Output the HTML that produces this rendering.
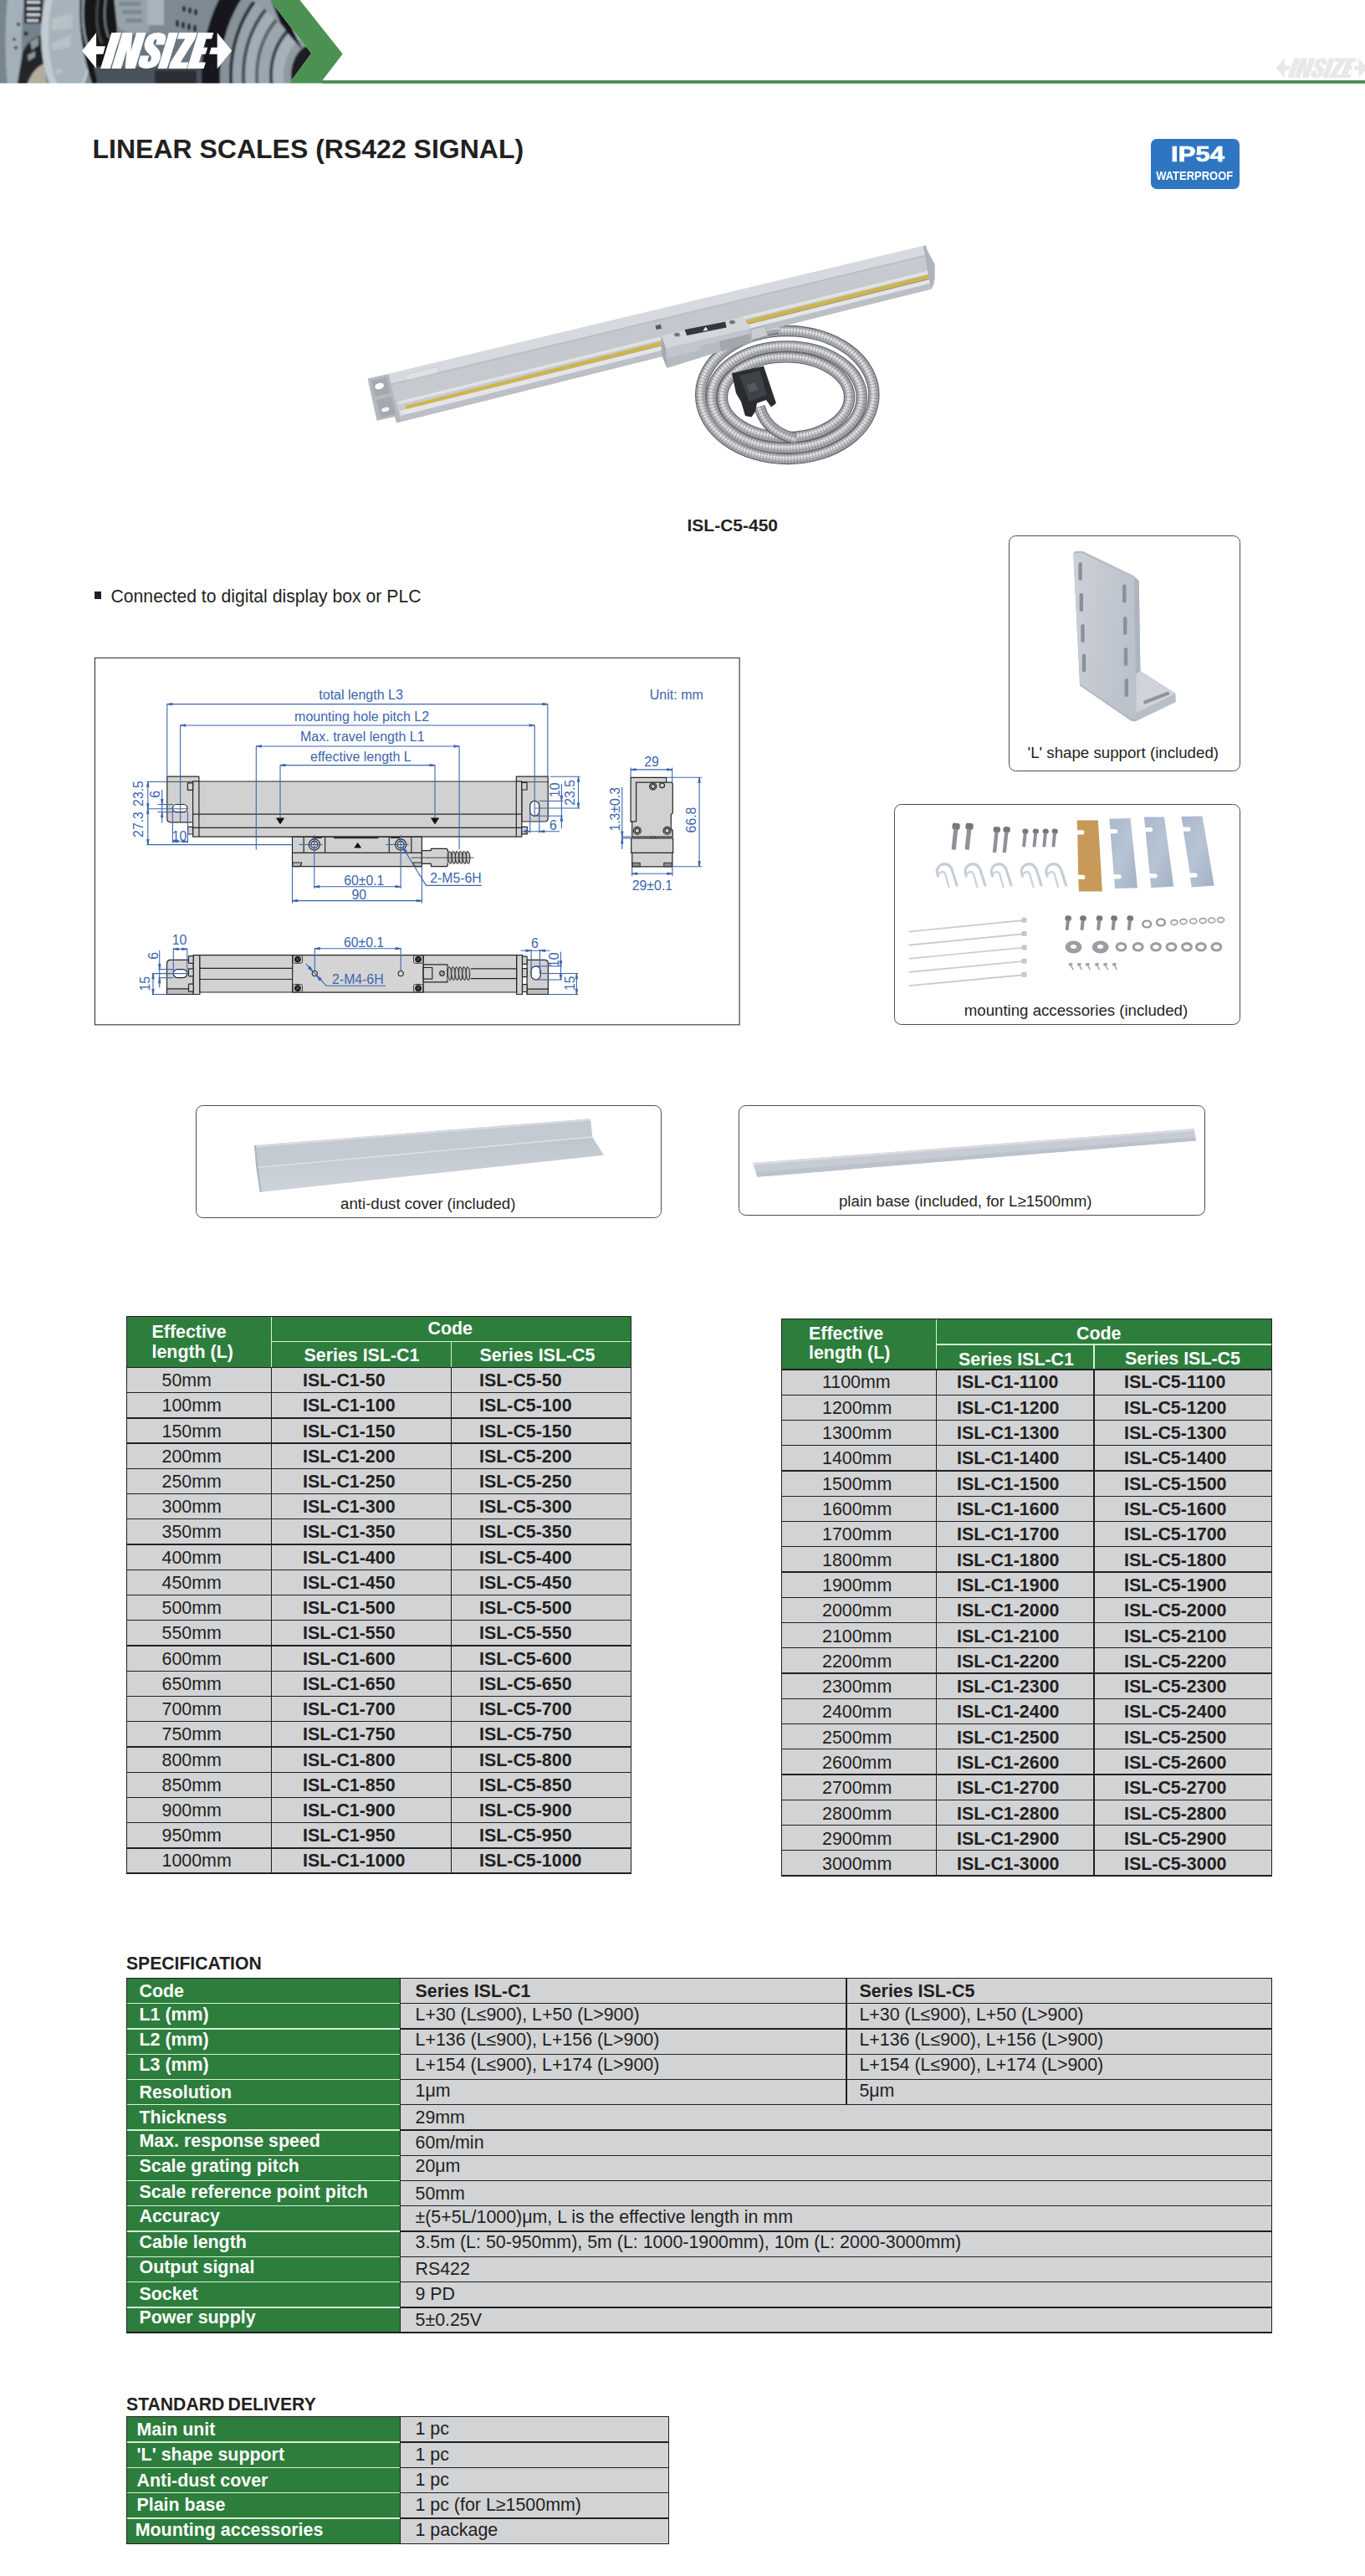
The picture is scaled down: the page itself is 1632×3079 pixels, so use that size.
<!DOCTYPE html>
<html><head><meta charset="utf-8"><title>Linear Scales</title>
<style>
*{margin:0;padding:0;box-sizing:border-box}
html,body{width:1632px;height:3079px;background:#fff;overflow:hidden}
body{position:relative;font-family:"Liberation Sans",sans-serif;color:#231f20}
.a{position:absolute;white-space:nowrap;line-height:1}
.b{font-weight:bold}
.box{position:absolute;border:1.25px solid #4c4c4e;border-radius:8.5px;background:#fff}
.g{background:#2d7d3d}
.y{background:#d2d3d5}
.k{background:#231f20}
.l{background:#d4f3d2}
svg{position:absolute;overflow:visible}
</style></head><body>
<!-- HEADER -->
<svg width="1632" height="110" style="left:0;top:0" viewBox="0 0 1632 110">
<defs>
<clipPath id="hc"><polygon points="0,0 322.5,0 372.3,63.7 346,99.4 0,99.4"/></clipPath>
<linearGradient id="hg" x1="0" x2="1" y1="0" y2="0">
<stop offset="0" stop-color="#6c7c88"/><stop offset="0.05" stop-color="#8896a0"/><stop offset="0.1" stop-color="#59656e"/>
<stop offset="0.14" stop-color="#a9b4bb"/><stop offset="0.27" stop-color="#b4bec4"/><stop offset="0.3" stop-color="#6b7780"/>
<stop offset="0.34" stop-color="#15181b"/><stop offset="0.4" stop-color="#262b30"/><stop offset="0.44" stop-color="#8a969e"/>
<stop offset="0.52" stop-color="#6f7b84"/><stop offset="0.58" stop-color="#2a2f34"/><stop offset="0.66" stop-color="#4b555d"/>
<stop offset="0.72" stop-color="#1f2327"/><stop offset="0.78" stop-color="#7d8992"/><stop offset="0.84" stop-color="#a4aeb6"/>
<stop offset="0.9" stop-color="#707b84"/><stop offset="0.95" stop-color="#9aa5ad"/><stop offset="1" stop-color="#5c666e"/>
</linearGradient>
<filter id="hb" x="-5%" y="-5%" width="110%" height="110%"><feGaussianBlur stdDeviation="0.9"/></filter>
<g id="logo">
<g transform="translate(0,82) skewX(-17.1) translate(0,-82)">
<rect x="120.1" y="39.1" width="11.7" height="42.9"/>
<polygon points="133.3,39.1 145.2,39.1 150,61 150,39.1 161.5,39.1 161.5,82 149.6,82 144.8,60 144.8,82 133.3,82"/>
<path d="M187.6,53.5 V49.5 Q187.6,39.1 175.6,39.1 Q163.4,39.1 163.4,50 Q163.4,57 169,61.5 L175.5,66.8 Q177.3,68.5 177.3,71 Q177.3,74 175.4,74 Q173.5,74 173.5,71 V66.5 H163.1 V71.5 Q163.1,82 175.4,82 Q187.9,82 187.9,71 Q187.9,63.5 182,58.8 L175.5,53.6 Q173.7,52 173.7,49.8 Q173.7,47 175.5,47 Q177.3,47 177.3,49.8 V53.5 Z"/>
<rect x="188.7" y="39.1" width="11" height="42.9"/>
<polygon points="201,39.1 222.4,39.1 222.4,46.6 213.5,74.5 223.1,74.5 223.1,82 201.5,82 201.5,74.5 210.4,46.6 201,46.6"/>
<polygon points="223.8,39.1 242.2,39.1 242.2,46.6 235.6,46.6 235.6,56.7 240.5,56.7 240.5,64.8 235.6,64.8 235.6,74.5 243.6,74.5 243.6,82 223.8,82"/>
</g>
<polygon points="98,60.8 115.1,39.1 115.1,55.2 126,55.2 123.3,64.8 115.1,64.8 115.1,82"/>
<polygon points="277.2,60.8 259.7,39.1 259.7,56.7 252.6,56.7 250.2,64.8 259.7,64.8 259.7,82"/>
</g>
</defs>
<g clip-path="url(#hc)">
<g filter="url(#hb)">
<rect x="-5" y="-5" width="385" height="110" fill="#7b8a95"/>
<!-- far-left rings -->
<rect x="-5" y="-5" width="14" height="110" fill="#76858f"/>
<path d="M9,-5 Q4,50 9,105 H29 Q22,50 29,-5Z" fill="#a3b0b9"/>
<rect x="28" y="-5" width="24" height="110" fill="#73828d"/>
<rect x="29" y="-5" width="22" height="33" fill="#1d2125"/>
<path d="M32,1 h16 v3.500 h-16z M32,8.500 h16 v3.500 h-16z M32,16 h16 v3.500 h-16z M32,23 h14 v3 h-14z" fill="#c9d0d5"/>
<circle cx="22" cy="29" r="2" fill="#2a2f34"/><circle cx="31" cy="40" r="2.600" fill="#2a2f34"/><circle cx="17" cy="47" r="1.800" fill="#2a2f34"/><circle cx="19" cy="57" r="2" fill="#2a2f34"/>
<path d="M27,62 Q36,44 52,42 V105 H20Z" fill="#22262a"/>
<path d="M36,50 l10,-6 v10 l-8,6z M33,66 l9,-5 v7 l-8,5z" fill="#8a949b"/>
<path d="M31,105 Q38,82 53,76 L56,105Z" fill="#b3ad9b"/>
<!-- big light disk -->
<ellipse cx="80" cy="42" rx="31" ry="78" fill="#c2cbd2"/>
<ellipse cx="83" cy="42" rx="25" ry="72" fill="#a7b3bb"/>
<path d="M62,22 l24,-6 v18 l-24,2z M62,52 l22,-10 v14 l-22,4z M66,84 l8,-2 v6 l-8,1z" fill="#b7c1c8"/>
<!-- black region -->
<path d="M96,-5 Q92,50 112,105 H140 V-5Z" fill="#121518"/>
<path d="M100,-5 Q96,35 106,58" fill="none" stroke="#8b959c" stroke-width="3"/>
<path d="M118,-5 Q112,30 122,52" fill="none" stroke="#3f464c" stroke-width="3"/>
<path d="M127,-5 Q122,25 130,45" fill="none" stroke="#6d777f" stroke-width="2.500"/>
<!-- gear upper middle -->
<path d="M136,-5 H178 V38 Q155,44 140,32Z" fill="#97a3ab"/>
<path d="M142,2 h26 v5 h-26z M146,12 h24 v5 h-24z M150,22 h20 v5 h-20z" fill="#7d8991"/>
<path d="M176,-5 H196 V30 H176Z" fill="#a9b4bc"/>
<path d="M150,42 H262 V105 H112Z" fill="#6b7780"/>
<path d="M112,80 H262 V105 H118Z" fill="#4a535b"/>
<path d="M196,-5 H262 V45 H196Z" fill="#7e8a93"/>
<g fill="#23272b"><rect x="218" y="7" width="4" height="7" rx="1.500"/><rect x="225" y="9" width="4" height="7" rx="1.500"/><rect x="232" y="11" width="4" height="7" rx="1.500"/><rect x="210" y="24" width="4" height="8" rx="1.500"/><rect x="217" y="26" width="4" height="8" rx="1.500"/><rect x="224" y="28" width="4" height="8" rx="1.500"/><rect x="231" y="30" width="4" height="8" rx="1.500"/></g>
<path d="M185,84 h50 v21 h-50z" fill="#2a2f34"/>
<!-- right concentric rings -->
<ellipse cx="375" cy="90" rx="134" ry="170" fill="#15181b"/>
<ellipse cx="375" cy="90" rx="112" ry="143" fill="#87929b"/>
<ellipse cx="375" cy="90" rx="101" ry="129" fill="#2b3035"/>
<ellipse cx="375" cy="90" rx="97" ry="124" fill="#98a3ac"/>
<ellipse cx="375" cy="90" rx="86" ry="110" fill="#434b52"/>
<ellipse cx="375" cy="90" rx="82" ry="105" fill="#a3adb5"/>
<ellipse cx="375" cy="90" rx="70" ry="90" fill="#5b646c"/>
<ellipse cx="375" cy="90" rx="66" ry="85" fill="#9ba6af"/>
<ellipse cx="375" cy="90" rx="53" ry="69" fill="#3b4248"/>
<ellipse cx="375" cy="90" rx="49" ry="64" fill="#a7b1b9"/>
<ellipse cx="375" cy="90" rx="36" ry="48" fill="#8e99a2"/>
<ellipse cx="375" cy="90" rx="27" ry="37" fill="#1a1d20"/>
<path d="M296,-5 Q330,18 346,42 L362,60 L330,-5Z" fill="#15181b"/>
<path d="M290,-5 Q318,8 336,30 L322,-5Z" fill="#929da6"/>
</g>
</g>
<polygon points="322.5,0 358.4,0 409.7,64.5 385.5,96 1632,96 1632,99.6 346,99.6 372.3,63.7" fill="#4c9151"/>
<rect x="385" y="96" width="1247" height="3.6" fill="#4f8a57"/>
<use href="#logo" fill="#fff"/>
<g transform="translate(1525.8,69.5) scale(0.61,0.55) translate(-98,-39.1)" opacity="0.9"><use href="#logo" fill="#e5e6e8"/></g>
</svg>
<div class="a b" style="left:110.5px;top:162.4px;font-size:32px">LINEAR SCALES (RS422 SIGNAL)</div>
<div class="a" style="left:1376px;top:165.5px;width:106px;height:60px;background:#2f76c2;border-radius:7px"></div>
<div class="a b" style="left:1379px;top:171.800px;width:106px;text-align:center;font-size:25px;color:#fff;-webkit-text-stroke:0.7px #fff;transform:scaleX(1.24)">IP54</div>
<div class="a b" style="left:1375px;top:202px;width:106px;text-align:center;font-size:15px;color:#fff;transform:scaleX(0.865)">WATERPROOF</div>

<!-- PRODUCT -->
<svg width="1632" height="700" style="left:0;top:0" viewBox="0 0 1632 700">
<defs>
<linearGradient id="barf" x1="0" y1="0" x2="0.24" y2="1"><stop offset="0" stop-color="#cfd2d7"/><stop offset="0.5" stop-color="#c3c6cc"/><stop offset="1" stop-color="#c9ccd1"/></linearGradient>
</defs>
<!-- cable coil -->
<g fill="none">
<g stroke="#5e6166" stroke-width="13.4"><ellipse cx="941.3" cy="472" rx="103.6" ry="76.5"/>
<ellipse cx="940.4" cy="474.8" rx="89.9" ry="60.9"/>
<ellipse cx="939.5" cy="474.8" rx="76.1" ry="48"/></g>
<g stroke="#a3a6ab" stroke-width="11.2"><ellipse cx="941.3" cy="472" rx="103.6" ry="76.5"/>
<ellipse cx="940.4" cy="474.8" rx="89.9" ry="60.9"/>
<ellipse cx="939.5" cy="474.8" rx="76.1" ry="48"/></g>
<g stroke="#c9cbcf" stroke-width="6" opacity="0.9"><ellipse cx="940.6999999999999" cy="471.2" rx="103.6" ry="76.5"/>
<ellipse cx="939.8" cy="474.0" rx="89.9" ry="60.9"/>
<ellipse cx="938.9" cy="474.0" rx="76.1" ry="48"/></g>
<g stroke="#e3e5e7" stroke-width="2.6" opacity="0.9"><ellipse cx="940.3" cy="470.7" rx="103.6" ry="76.5"/>
<ellipse cx="939.4" cy="473.5" rx="89.9" ry="60.9"/>
<ellipse cx="938.5" cy="473.5" rx="76.1" ry="48"/></g>
<g stroke="#74777c" stroke-width="11.2" stroke-dasharray="1 2.7" opacity="0.5"><ellipse cx="941.3" cy="472" rx="103.6" ry="76.5"/>
<ellipse cx="940.4" cy="474.8" rx="89.9" ry="60.9"/>
<ellipse cx="939.5" cy="474.8" rx="76.1" ry="48"/></g>
</g>
<!-- cable from head -->
<path d="M899,400 Q915,394 930,392" fill="none" stroke="#5e6166" stroke-width="13.4"/>
<path d="M899,400 Q915,394 932,392" fill="none" stroke="#a3a6ab" stroke-width="11.2"/>
<path d="M899,399 Q915,393 932,391" fill="none" stroke="#d5d7da" stroke-width="4"/>
<!-- connector cable inner -->
<path d="M908,486 Q916,516 950,524" fill="none" stroke="#5e6166" stroke-width="13.4"/>
<path d="M908,486 Q916,516 952,524.500" fill="none" stroke="#a3a6ab" stroke-width="11.2"/>
<path d="M907,486 Q915,517 952,525.500" fill="none" stroke="#d3d5d8" stroke-width="4"/>
<path d="M908,486 Q916,516 952,524.500" fill="none" stroke="#74777c" stroke-width="11.2" stroke-dasharray="1 2.7" opacity="0.5"/>
<!-- DB9 connector -->
<polygon points="875,446 913,437.5 928,482 922,486.500 916,478 905,482 903,492 898.500,498.500 891,497 886,480 880,470" fill="#2a2c30"/>
<polygon points="884,449 908,443 917,472 896,480" fill="#3f4248"/>
<polygon points="893,460 903,457 906,466 896,469" fill="#55585e"/>
<!-- bar -->
<polygon points="464.5,447 1103.8,293.9 1117.7,332.9 1113.6,345.4 479.9,504" fill="url(#barf)"/>
<polygon points="464.5,447 1103.8,293.9 1107.5,304.5 468,458.5" fill="#d6d9dd"/>
<polygon points="468,458.5 1107.5,304.5 1108,306 468.5,460" fill="#b9bdc3"/>
<polygon points="476,480 1112,323 1113.5,326.5 477,483.5" fill="#e0e2e5"/>
<polygon points="485,485 1113.5,327.500 1114.8,331.3 486,488.800" fill="#cfb545"/>
<polygon points="486,489 1115,331.5 1115.5,333 486.5,490.5" fill="#a99a6a"/>
<polygon points="478,491 1116,333 1117.5,337.5 479,497" fill="#e3e5e8"/>
<polygon points="479,497 1117.5,337.5 1113.6,345.4 479.9,504" fill="#bcc0c6"/>
<!-- right end cap details -->
<polygon points="1103.8,293.9 1107,293 1109,300 1117.7,316 1117.7,332.9 1113.6,345.4 1110,330 1106,305" fill="#aeb2b9"/>
<!-- label -->
<polygon points="484,448 523,438.5 525,445 486,454.5" fill="#dfe1e4" stroke="#c2c5ca" stroke-width="0.6"/>
<!-- left bracket -->
<polygon points="439.5,452.6 464.5,447 479.9,504 474,505.5 472,498 450.6,502.7" fill="#b4b8bf"/>
<polygon points="444,455 462,451 467,470 449,474" fill="#a4a8b0"/>
<polygon points="450,478 468,474 473,495 455,499" fill="#a4a8b0"/>
<ellipse cx="453.6" cy="461.5" rx="5.5" ry="3.6" fill="#fff" transform="rotate(-14 453.6 461.5)"/>
<ellipse cx="460.8" cy="489.5" rx="4.8" ry="2.6" fill="#f2f3f4" transform="rotate(-14 460.8 489.5)"/>
<!-- reading head -->
<polygon points="790.6,401.1 888.1,378.8 897.8,392.8 899.2,408.1 797.6,440.1 791,424" fill="#b6bac1"/>
<polygon points="790.6,401.1 888.1,378.8 897.8,392.8 796.2,416.4" fill="#d3d6da"/>
<polygon points="790.6,401.1 796.2,416.4 797.6,440.1 791,424" fill="#a5a9b1"/>
<polygon points="796.2,416.4 897.8,392.8 898.4,399 836,414 836.5,419 797,428.5" fill="#c2c5cb"/>
<polygon points="818.5,394.1 867.2,384.4 868.6,391.4 821.2,401.1" fill="#34373c"/>
<polygon points="843.5,390.5 846.6,394.6 840.5,395.8" fill="#e8e9eb"/>
<ellipse cx="809.5" cy="400" rx="3.8" ry="2.6" fill="#8a8e95"/><ellipse cx="809.5" cy="400" rx="2" ry="1.3" fill="#5e6167"/>
<ellipse cx="875.5" cy="385" rx="3.8" ry="2.6" fill="#8a8e95"/><ellipse cx="875.5" cy="385" rx="2" ry="1.3" fill="#5e6167"/>
<rect x="784" y="388.5" width="6.5" height="5" fill="#55585e" transform="rotate(-13 787 391)"/>
<polygon points="860,408 896,399 898,410 862,420" fill="#a2a6ad"/>
<!-- ferrule -->
<polygon points="897,394 915,389.5 918,401 899,406.5" fill="#c9ccd1" stroke="#9a9da3" stroke-width="0.8"/>
</svg>
<div class="a b" style="left:821.5px;top:616.9px;font-size:21px">ISL-C5-450</div>
<div class="a" style="left:112.5px;top:707px;width:8.5px;height:8.5px;background:#231f20"></div>
<div class="a" style="left:132.5px;top:701.5px;font-size:21.2px">Connected to digital display box or PLC</div>

<!-- DIAGRAM -->
<svg width="1632" height="1300" style="left:0;top:0" viewBox="0 0 1632 1300" font-family="Liberation Sans, sans-serif">
<rect x="113.45" y="786.35" width="770.7" height="438.5" fill="#fff" stroke="#3a3a3c" stroke-width="1.15"/>
<g fill="#d1d1d2" stroke="#262626" stroke-width="1.2" stroke-linejoin="round">
<path d="M199.8,928.2 H237.9 V934 H230.6 V982.8 H204 Q199.8,982.8 199.8,978.5 Z"/>
<path d="M655.2,928.2 H617.3 V934 H623.8 V982 H651 Q655.2,982 655.2,977.7 Z"/>
<path d="M237.9,934 H617.3 V934 H623.8 V1000.1 H230.6 V934 Z"/>
<line x1="237.9" y1="934" x2="237.9" y2="1000.1"/>
<line x1="617.3" y1="934" x2="617.3" y2="1000.1"/>
<line x1="230.6" y1="973.2" x2="623.8" y2="973.2"/>
<line x1="230.6" y1="989.3" x2="623.8" y2="989.3"/>
<line x1="199.8" y1="934.4" x2="230.6" y2="934.4" stroke-width="0.8"/>
<line x1="623.8" y1="934.6" x2="655.2" y2="934.6" stroke-width="0.8"/>
<rect x="224.4" y="935.8" width="6.2" height="8.6"/>
<rect x="224.6" y="988.4" width="6" height="8.6"/>
<rect x="623.8" y="935.4" width="6.2" height="8.6"/>
<rect x="623.8" y="988.3" width="6.5" height="8.5"/>
<rect x="206.4" y="961.5" width="17.6" height="9.2" rx="4.6" fill="#fff"/>
<rect x="633.7" y="957.4" width="11.1" height="17.9" rx="5.5" fill="#fff"/>
<rect x="349.5" y="1000.4" width="154.9" height="35.2"/>
<line x1="349.5" y1="1019.4" x2="504.4" y2="1019.4"/>
<line x1="363.2" y1="1000.4" x2="363.2" y2="1019.4"/>
<line x1="388.6" y1="1000.4" x2="388.6" y2="1019.4"/>
<line x1="465.3" y1="1000.4" x2="465.3" y2="1019.4"/>
<line x1="491.8" y1="1000.4" x2="491.8" y2="1019.4"/>
<path d="M374,1001 H385 M399,1001.2 H452.4 M467,1001 H478" stroke-width="2.2" fill="none"/>
<path d="M349.9,1031 H360.6 Q360.6,1035 357,1035.6 H349.9 Z M504.4,1031 H493.9 Q493.9,1035 497.5,1035.6 H504.4 Z" fill="#bdbdbe"/>
<circle cx="375.8" cy="1009.5" r="6.6" /><circle cx="375.8" cy="1009.5" r="4.1"/>
<circle cx="479.1" cy="1009.5" r="6.6" /><circle cx="479.1" cy="1009.5" r="4.1"/>
<path d="M504.4,1016.6 H515.3 V1014.3 H533 Q535.3,1014.3 535.3,1016.5 V1033.4 Q535.3,1035.6 533,1035.6 H515.3 V1032.4 H504.4 Z"/>
<path d="M535.3,1018 H561 V1032 H535.3 Z" fill="#c4c4c5" stroke="none"/>
<path d="M537.2,1017.4 q3,1 3.2,7.6 q0,6.4 -1.6,7.6 q-2.6,-1 -3,-7.6 q0,-6.4 1.4,-7.6z" fill="#bebebf" stroke-width="1"/>
<path d="M541.5,1017.4 q3,1 3.2,7.6 q0,6.4 -1.6,7.6 q-2.6,-1 -3,-7.6 q0,-6.4 1.4,-7.6z" fill="#bebebf" stroke-width="1"/>
<path d="M545.8000000000001,1017.4 q3,1 3.2,7.6 q0,6.4 -1.6,7.6 q-2.6,-1 -3,-7.6 q0,-6.4 1.4,-7.6z" fill="#bebebf" stroke-width="1"/>
<path d="M550.1,1017.4 q3,1 3.2,7.6 q0,6.4 -1.6,7.6 q-2.6,-1 -3,-7.6 q0,-6.4 1.4,-7.6z" fill="#bebebf" stroke-width="1"/>
<path d="M554.4000000000001,1017.4 q3,1 3.2,7.6 q0,6.4 -1.6,7.6 q-2.6,-1 -3,-7.6 q0,-6.4 1.4,-7.6z" fill="#bebebf" stroke-width="1"/>
<path d="M558.7,1017.4 q3,1 3.2,7.6 q0,6.4 -1.6,7.6 q-2.6,-1 -3,-7.6 q0,-6.4 1.4,-7.6z" fill="#bebebf" stroke-width="1"/>
</g>
<polygon points="329.9,977.4 340.2,977.4 335,985.4" fill="#111"/>
<polygon points="514.9,977.4 525.2,977.4 520,985.4" fill="#111"/>
<polygon points="423.2,1013.6 432.2,1013.6 427.7,1007" fill="#111"/>
<line x1="491.8" y1="1025.2" x2="566.7" y2="1025.2" stroke="#262626" stroke-width="0.8"/>
<g fill="#d1d1d2" stroke="#262626" stroke-width="1.2" stroke-linejoin="round">
<path d="M754.1,929.3 H796.7 V935.2 H802.2 Q804.3,935.2 804.3,937.5 V971.8 L802.3,973.5 V991 L804.3,992.3 V1000.1 H755.7 V982 H754.1 Z"/>
<path d="M760.6,982 V935.2 H796.7" fill="none"/>
<path d="M754.1,982 H760.6" fill="none"/>
<rect x="778.2" y="1000.1" width="5.6" height="1.9" fill="#bdbdbe" stroke-width="0.8"/>
<path d="M754.7,1001.9 H804.7 V1019.4 H803.9 V1035.8 H755.7 V1019.4 H754.7 Z"/>
<line x1="754.7" y1="1019.4" x2="804.7" y2="1019.4"/>
<path d="M756.1,1031.3 H765.3 V1035.8 H756.1 Z M793.7,1031.3 H803.3 V1035.8 H793.7 Z" fill="#8c8c8d" stroke-width="0.9"/>
<circle cx="780.7" cy="940" r="4.1"/><circle cx="780.7" cy="940" r="2.5"/>
<circle cx="761.9" cy="992.9" r="4.5"/><circle cx="761.9" cy="992.9" r="2.7"/>
<circle cx="797.6" cy="992.9" r="4.5"/><circle cx="797.6" cy="992.9" r="2.7"/>
<circle cx="791.6" cy="938.7" r="2.9"/>
</g>
<g fill="#d1d1d2" stroke="#262626" stroke-width="1.2" stroke-linejoin="round">
<path d="M231.2,1147.3 H203.8 Q199.5,1147.3 199.5,1151.5 V1188.5 H231.2 Z"/>
<path d="M199.5,1181.9 H231.2 V1188.5 H199.5Z" fill="#bdbdbe"/>
<path d="M630.1,1147.3 H651.2 Q655.4,1147.3 655.4,1151.5 V1188.5 H630.1 Z"/>
<path d="M630.1,1182.1 H655.4 V1188.5 H630.1Z" fill="#bdbdbe"/>
<rect x="231.2" y="1141.7" width="7.7" height="46.8"/>
<rect x="617.6" y="1141.7" width="6.9" height="46.8"/>
<rect x="238.9" y="1141.7" width="378.7" height="44.3"/>
<line x1="238.9" y1="1157.3" x2="349.7" y2="1157.3"/><line x1="238.9" y1="1170.5" x2="349.7" y2="1170.5"/>
<line x1="562.7" y1="1157.9" x2="617.6" y2="1157.9"/><line x1="562.7" y1="1169.6" x2="617.6" y2="1169.6"/>
<rect x="349.7" y="1141.7" width="156.5" height="44.3" fill="#d4d4d5"/>
<rect x="225.5" y="1142.6" width="5.7" height="8.8" rx="0.8"/>
<rect x="225.5" y="1157.8" width="5.7" height="9.1" rx="0.8"/>
<rect x="225.5" y="1176.1" width="5.7" height="9.1" rx="0.8"/>
<rect x="624.5" y="1143.2" width="5.6" height="9.1" rx="0.8"/>
<rect x="624.5" y="1157.6" width="5.6" height="10.1" rx="0.8"/>
<rect x="624.5" y="1176.6" width="5.6" height="8.9" rx="0.8"/>
<rect x="207.3" y="1158.6" width="16.5" height="10.1" rx="5" fill="#fff"/>
<rect x="635.1" y="1154.8" width="11.1" height="16.2" rx="5.5" fill="#fff"/>
<path d="M506.2,1152.9 H534.9 V1173.8 H506.2 Z"/>
<rect x="506.2" y="1156.5" width="10.6" height="13.7"/>
<circle cx="528.5" cy="1163.5" r="2.8"/><line x1="526.6" y1="1165.4" x2="530.4" y2="1161.6" stroke-width="0.9"/>
<path d="M534.9,1156 H562 V1171.5 H534.9 Z" fill="#c4c4c5" stroke="none"/>
<path d="M536.6,1155.7 q3,1 3.2,8 q0,6.8 -1.6,8 q-2.6,-1 -3,-8 q0,-6.8 1.4,-8z" fill="#bebebf" stroke-width="1"/>
<path d="M541.0,1155.7 q3,1 3.2,8 q0,6.8 -1.6,8 q-2.6,-1 -3,-8 q0,-6.8 1.4,-8z" fill="#bebebf" stroke-width="1"/>
<path d="M545.4,1155.7 q3,1 3.2,8 q0,6.8 -1.6,8 q-2.6,-1 -3,-8 q0,-6.8 1.4,-8z" fill="#bebebf" stroke-width="1"/>
<path d="M549.8000000000001,1155.7 q3,1 3.2,8 q0,6.8 -1.6,8 q-2.6,-1 -3,-8 q0,-6.8 1.4,-8z" fill="#bebebf" stroke-width="1"/>
<path d="M554.2,1155.7 q3,1 3.2,8 q0,6.8 -1.6,8 q-2.6,-1 -3,-8 q0,-6.8 1.4,-8z" fill="#bebebf" stroke-width="1"/>
<path d="M558.6,1155.7 q3,1 3.2,8 q0,6.8 -1.6,8 q-2.6,-1 -3,-8 q0,-6.8 1.4,-8z" fill="#bebebf" stroke-width="1"/>
<rect x="350.29999999999995" y="1141.8999999999999" width="11.2" height="9.4" rx="2" fill="#d4d4d5" stroke-width="0.9"/>
<circle cx="355.9" cy="1146.6" r="3.9" fill="#1b1b1b" stroke="none"/>
<path d="M353.7,1144.3999999999999 L358.09999999999997,1148.8 M353.7,1148.8 L358.09999999999997,1144.3999999999999" stroke="#777" stroke-width="0.8"/>
<rect x="350.29999999999995" y="1176.5" width="11.2" height="9.4" rx="2" fill="#d4d4d5" stroke-width="0.9"/>
<circle cx="355.9" cy="1181.2" r="3.9" fill="#1b1b1b" stroke="none"/>
<path d="M353.7,1179.0 L358.09999999999997,1183.4 M353.7,1183.4 L358.09999999999997,1179.0" stroke="#777" stroke-width="0.8"/>
<rect x="494.5" y="1141.8999999999999" width="11.2" height="9.4" rx="2" fill="#d4d4d5" stroke-width="0.9"/>
<circle cx="500.1" cy="1146.6" r="3.9" fill="#1b1b1b" stroke="none"/>
<path d="M497.90000000000003,1144.3999999999999 L502.3,1148.8 M497.90000000000003,1148.8 L502.3,1144.3999999999999" stroke="#777" stroke-width="0.8"/>
<rect x="494.5" y="1176.5" width="11.2" height="9.4" rx="2" fill="#d4d4d5" stroke-width="0.9"/>
<circle cx="500.1" cy="1181.2" r="3.9" fill="#1b1b1b" stroke="none"/>
<path d="M497.90000000000003,1179.0 L502.3,1183.4 M497.90000000000003,1183.4 L502.3,1179.0" stroke="#777" stroke-width="0.8"/>
<circle cx="376.3" cy="1163.6" r="3.1" fill="none" stroke-width="1.1"/><circle cx="479.2" cy="1163.6" r="3.1" fill="none" stroke-width="1.1"/>
</g>
<g stroke="#3b66ad" stroke-width="1.1" fill="none">
<line x1="199.8" y1="841.6" x2="199.8" y2="928.2"/>
<line x1="654.8" y1="841.6" x2="654.8" y2="928.2"/>
<line x1="199.8" y1="841.6" x2="654.8" y2="841.6"/>
<polygon points="199.8,841.6 205.8,840.5500000000001 205.8,842.65" fill="#3b66ad"/>
<polygon points="654.8,841.6 648.8,840.5500000000001 648.8,842.65" fill="#3b66ad"/>
<line x1="215.6" y1="867" x2="215.6" y2="982"/>
<line x1="639.2" y1="867" x2="639.2" y2="975"/>
<line x1="215.6" y1="867" x2="639.2" y2="867"/>
<polygon points="215.6,867 221.6,865.95 221.6,868.05" fill="#3b66ad"/>
<polygon points="639.2,867 633.2,865.95 633.2,868.05" fill="#3b66ad"/>
<line x1="306.3" y1="892" x2="306.3" y2="1015.5"/>
<line x1="549.1" y1="892" x2="549.1" y2="1015.5"/>
<line x1="306.3" y1="892" x2="549.1" y2="892"/>
<polygon points="306.3,892 312.3,890.95 312.3,893.05" fill="#3b66ad"/>
<polygon points="549.1,892 543.1,890.95 543.1,893.05" fill="#3b66ad"/>
<line x1="335" y1="914.6" x2="335" y2="977.4"/>
<line x1="520" y1="914.6" x2="520" y2="977.4"/>
<line x1="335" y1="914.6" x2="520" y2="914.6"/>
<polygon points="335,914.6 341,913.5500000000001 341,915.65" fill="#3b66ad"/>
<polygon points="520,914.6 514,913.5500000000001 514,915.65" fill="#3b66ad"/>
<line x1="175.5" y1="934.4" x2="199.8" y2="934.4"/>
<line x1="175.5" y1="966.7" x2="224" y2="966.7"/>
<line x1="175.5" y1="1009.6" x2="349.5" y2="1009.6"/>
<line x1="176.8" y1="934.4" x2="176.8" y2="966.7"/>
<polygon points="176.8,934.4 175.75,940.4 177.85000000000002,940.4" fill="#3b66ad"/>
<polygon points="176.8,966.7 175.75,960.7 177.85000000000002,960.7" fill="#3b66ad"/>
<line x1="176.8" y1="966.7" x2="176.8" y2="1009.6"/>
<polygon points="176.8,966.7 175.75,972.7 177.85000000000002,972.7" fill="#3b66ad"/>
<polygon points="176.8,1009.6 175.75,1003.6 177.85000000000002,1003.6" fill="#3b66ad"/>
<line x1="188.4" y1="961.5" x2="207" y2="961.5"/>
<line x1="188.4" y1="970.6" x2="207" y2="970.6"/>
<line x1="193.7" y1="944" x2="193.7" y2="983.5"/>
<polygon points="193.7,961.5 192.64999999999998,955.5 194.75,955.5" fill="#3b66ad"/>
<polygon points="193.7,970.6 192.64999999999998,976.6 194.75,976.6" fill="#3b66ad"/>
<line x1="206.4" y1="966.7" x2="206.4" y2="1007.7"/>
<line x1="224.4" y1="970" x2="224.4" y2="1007.7"/>
<line x1="206.4" y1="1005.8" x2="224.4" y2="1005.8"/>
<polygon points="206.4,1005.8 212.4,1004.75 212.4,1006.8499999999999" fill="#3b66ad"/>
<polygon points="224.4,1005.8 218.4,1004.75 218.4,1006.8499999999999" fill="#3b66ad"/>
<line x1="357.5" y1="1009.5" x2="385.7" y2="1009.5"/>
<line x1="461.5" y1="1009.5" x2="488.6" y2="1009.5"/>
<line x1="375.8" y1="998" x2="375.8" y2="1062"/>
<line x1="479.1" y1="998" x2="479.1" y2="1062"/>
<line x1="375.8" y1="1059.8" x2="479.1" y2="1059.8"/>
<polygon points="375.8,1059.8 381.8,1058.75 381.8,1060.85" fill="#3b66ad"/>
<polygon points="479.1,1059.8 473.1,1058.75 473.1,1060.85" fill="#3b66ad"/>
<line x1="349.5" y1="1035.6" x2="349.5" y2="1079.6"/>
<line x1="504.4" y1="1035.6" x2="504.4" y2="1079.6"/>
<line x1="349.5" y1="1076.6" x2="504.4" y2="1076.6"/>
<polygon points="349.5,1076.6 355.5,1075.55 355.5,1077.6499999999999" fill="#3b66ad"/>
<polygon points="504.4,1076.6 498.4,1075.55 498.4,1077.6499999999999" fill="#3b66ad"/>
<polyline points="482.5,1014.5 509.5,1058.4 575.8,1058.4"/>
<polygon points="481.5,1013 486.5,1017.5 484.2,1018.9" fill="#3b66ad"/>
<line x1="657.7" y1="928.3" x2="693.6" y2="928.3"/>
<line x1="639.2" y1="966" x2="693.6" y2="966"/>
<line x1="691.5" y1="928.3" x2="691.5" y2="966"/>
<polygon points="691.5,928.3 690.45,934.3 692.55,934.3" fill="#3b66ad"/>
<polygon points="691.5,966 690.45,960 692.55,960" fill="#3b66ad"/>
<line x1="644.8" y1="957.4" x2="673.1" y2="957.4"/>
<line x1="639.2" y1="975.3" x2="673.1" y2="975.3"/>
<line x1="671.4" y1="937" x2="671.4" y2="990.2"/>
<polygon points="671.4,957.4 670.35,951.4 672.4499999999999,951.4" fill="#3b66ad"/>
<polygon points="671.4,975.3 670.35,981.3 672.4499999999999,981.3" fill="#3b66ad"/>
<line x1="633.7" y1="970" x2="633.7" y2="995.4"/>
<line x1="644.8" y1="972" x2="644.8" y2="995.4"/>
<line x1="624.9" y1="993.7" x2="669" y2="993.7"/>
<polygon points="633.7,993.7 627.7,992.6500000000001 627.7,994.75" fill="#3b66ad"/>
<polygon points="644.8,993.7 650.8,992.6500000000001 650.8,994.75" fill="#3b66ad"/>
<line x1="754.1" y1="917.4" x2="754.1" y2="929.3"/>
<line x1="803.7" y1="917.4" x2="803.7" y2="936"/>
<line x1="754.1" y1="919.9" x2="803.7" y2="919.9"/>
<polygon points="754.1,919.9 760.1,918.85 760.1,920.9499999999999" fill="#3b66ad"/>
<polygon points="803.7,919.9 797.7,918.85 797.7,920.9499999999999" fill="#3b66ad"/>
<line x1="796.7" y1="929.3" x2="839.2" y2="929.3"/>
<line x1="803.3" y1="1035.8" x2="839.2" y2="1035.8"/>
<line x1="836.1" y1="929.3" x2="836.1" y2="1035.8"/>
<polygon points="836.1,929.3 835.0500000000001,935.3 837.15,935.3" fill="#3b66ad"/>
<polygon points="836.1,1035.8 835.0500000000001,1029.8 837.15,1029.8" fill="#3b66ad"/>
<line x1="743.8" y1="941" x2="743.8" y2="1014.9"/>
<line x1="742.8" y1="1000.1" x2="755.7" y2="1000.1"/>
<line x1="742.8" y1="1001.9" x2="755.7" y2="1001.9"/>
<polygon points="743.8,1000.1 742.75,994.1 744.8499999999999,994.1" fill="#3b66ad"/>
<polygon points="743.8,1001.9 742.75,1007.9 744.8499999999999,1007.9" fill="#3b66ad"/>
<line x1="755.7" y1="1035.8" x2="755.7" y2="1047.3"/>
<line x1="803.9" y1="1035.8" x2="803.9" y2="1047.3"/>
<line x1="755.7" y1="1044.2" x2="803.9" y2="1044.2"/>
<polygon points="755.7,1044.2 761.7,1043.15 761.7,1045.25" fill="#3b66ad"/>
<polygon points="803.9,1044.2 797.9,1043.15 797.9,1045.25" fill="#3b66ad"/>
<line x1="207.3" y1="1133.3" x2="207.3" y2="1163.6"/>
<line x1="223.8" y1="1133.3" x2="223.8" y2="1163.6"/>
<line x1="207.3" y1="1134.4" x2="223.8" y2="1134.4"/>
<polygon points="207.3,1134.4 213.3,1133.3500000000001 213.3,1135.45" fill="#3b66ad"/>
<polygon points="223.8,1134.4 217.8,1133.3500000000001 217.8,1135.45" fill="#3b66ad"/>
<line x1="189.4" y1="1158.6" x2="207.3" y2="1158.6"/>
<line x1="189.4" y1="1168.7" x2="207.3" y2="1168.7"/>
<line x1="190.7" y1="1136.1" x2="190.7" y2="1180.6"/>
<polygon points="190.7,1158.6 189.64999999999998,1152.6 191.75,1152.6" fill="#3b66ad"/>
<polygon points="190.7,1168.7 189.64999999999998,1174.7 191.75,1174.7" fill="#3b66ad"/>
<line x1="181.5" y1="1163.6" x2="223.3" y2="1163.6"/>
<line x1="181.5" y1="1188.5" x2="199.5" y2="1188.5"/>
<line x1="183" y1="1163.6" x2="183" y2="1188.5"/>
<polygon points="183,1163.6 181.95,1169.6 184.05,1169.6" fill="#3b66ad"/>
<polygon points="183,1188.5 181.95,1182.5 184.05,1182.5" fill="#3b66ad"/>
<line x1="376.3" y1="1133" x2="376.3" y2="1160.5"/>
<line x1="479.2" y1="1133" x2="479.2" y2="1160.5"/>
<line x1="376.3" y1="1133.8" x2="479.2" y2="1133.8"/>
<polygon points="376.3,1133.8 382.3,1132.75 382.3,1134.85" fill="#3b66ad"/>
<polygon points="479.2,1133.8 473.2,1132.75 473.2,1134.85" fill="#3b66ad"/>
<polyline points="365.9,1152.1 390.1,1178.2 461.1,1178.2"/>
<polygon points="373.9,1161 368.6,1157.3 370.6,1155.4" fill="#3b66ad"/><polygon points="378.7,1166.2 384,1169.9 382,1171.8" fill="#3b66ad"/>
<line x1="635.1" y1="1134.8" x2="635.1" y2="1163.5"/>
<line x1="645.4" y1="1134.8" x2="645.4" y2="1163.5"/>
<line x1="622.6" y1="1136.2" x2="657.4" y2="1136.2"/>
<polygon points="635.1,1136.2 629.1,1135.15 629.1,1137.25" fill="#3b66ad"/>
<polygon points="645.4,1136.2 651.4,1135.15 651.4,1137.25" fill="#3b66ad"/>
<line x1="640.7" y1="1154.8" x2="671.9" y2="1154.8"/>
<line x1="640.7" y1="1171" x2="671.9" y2="1171"/>
<line x1="670.5" y1="1137.6" x2="670.5" y2="1171"/>
<polygon points="670.5,1154.8 669.45,1148.8 671.55,1148.8" fill="#3b66ad"/>
<polygon points="670.5,1171 669.45,1165 671.55,1165" fill="#3b66ad"/>
<line x1="645.4" y1="1163.5" x2="691.3" y2="1163.5"/>
<line x1="655.4" y1="1188.5" x2="691.3" y2="1188.5"/>
<line x1="689.4" y1="1163.5" x2="689.4" y2="1188.5"/>
<polygon points="689.4,1163.5 688.35,1169.5 690.4499999999999,1169.5" fill="#3b66ad"/>
<polygon points="689.4,1188.5 688.35,1182.5 690.4499999999999,1182.5" fill="#3b66ad"/>
</g>
<text x="431.6" y="835.9" font-size="16" text-anchor="middle" fill="#3b66ad" stroke="none">total length L3</text>
<text x="432.6" y="862" font-size="16" text-anchor="middle" fill="#3b66ad" stroke="none">mounting hole pitch L2</text>
<text x="433.3" y="886" font-size="16" text-anchor="middle" fill="#3b66ad" stroke="none">Max. travel length L1</text>
<text x="431.4" y="909.8" font-size="16" text-anchor="middle" fill="#3b66ad" stroke="none">effective length L</text>
<text x="776.8" y="835.6" font-size="16" text-anchor="start" fill="#3b66ad" stroke="none">Unit: mm</text>
<text x="171.4" y="948.5" font-size="15.8" text-anchor="middle" fill="#3b66ad" stroke="none" transform="rotate(-90 171.4 948.5)">23.5</text>
<text x="171.4" y="985.5" font-size="15.8" text-anchor="middle" fill="#3b66ad" stroke="none" transform="rotate(-90 171.4 985.5)">27.3</text>
<text x="190.8" y="949.3" font-size="15.8" text-anchor="middle" fill="#3b66ad" stroke="none" transform="rotate(-90 190.8 949.3)">6</text>
<text x="214.5" y="1004.5" font-size="15.8" text-anchor="middle" fill="#3b66ad" stroke="none">10</text>
<text x="435.3" y="1058.2" font-size="15.8" text-anchor="middle" fill="#3b66ad" stroke="none">60±0.1</text>
<text x="429.2" y="1075.3" font-size="15.8" text-anchor="middle" fill="#3b66ad" stroke="none">90</text>
<text x="514.3" y="1054.7" font-size="15.8" text-anchor="start" fill="#3b66ad" stroke="none">2-M5-6H</text>
<text x="687" y="947.3" font-size="15.8" text-anchor="middle" fill="#3b66ad" stroke="none" transform="rotate(-90 687 947.3)">23.5</text>
<text x="669.5" y="944.3" font-size="15.8" text-anchor="middle" fill="#3b66ad" stroke="none" transform="rotate(-90 669.5 944.3)">10</text>
<text x="661.3" y="991.6" font-size="15.8" text-anchor="middle" fill="#3b66ad" stroke="none">6</text>
<text x="779" y="915.5" font-size="15.8" text-anchor="middle" fill="#3b66ad" stroke="none">29</text>
<text x="832" y="980" font-size="15.8" text-anchor="middle" fill="#3b66ad" stroke="none" transform="rotate(-90 832 980)">66.8</text>
<text x="740.7" y="967.3" font-size="15.8" text-anchor="middle" fill="#3b66ad" stroke="none" transform="rotate(-90 740.7 967.3)">1.3±0.3</text>
<text x="779.9" y="1063.6" font-size="15.8" text-anchor="middle" fill="#3b66ad" stroke="none">29±0.1</text>
<text x="214.6" y="1129.4" font-size="15.8" text-anchor="middle" fill="#3b66ad" stroke="none">10</text>
<text x="189.5" y="1142.3" font-size="15.8" text-anchor="middle" fill="#3b66ad" stroke="none" transform="rotate(-90 189.5 1142.3)">6</text>
<text x="179.5" y="1175.7" font-size="15.8" text-anchor="middle" fill="#3b66ad" stroke="none" transform="rotate(-90 179.5 1175.7)">15</text>
<text x="435" y="1132.2" font-size="15.8" text-anchor="middle" fill="#3b66ad" stroke="none">60±0.1</text>
<text x="397.1" y="1175.8" font-size="15.8" text-anchor="start" fill="#3b66ad" stroke="none">2-M4-6H</text>
<text x="639.4" y="1133" font-size="15.8" text-anchor="middle" fill="#3b66ad" stroke="none">6</text>
<text x="668.5" y="1147.3" font-size="15.8" text-anchor="middle" fill="#3b66ad" stroke="none" transform="rotate(-90 668.5 1147.3)">10</text>
<text x="686.6" y="1175.3" font-size="15.8" text-anchor="middle" fill="#3b66ad" stroke="none" transform="rotate(-90 686.6 1175.3)">15</text>
</svg>

<!-- ACCESSORIES -->
<div class="box" style="left:1206.1px;top:640.3px;width:276.5px;height:281.3px"></div>
<div class="box" style="left:1068.6px;top:961.3px;width:414.0px;height:264.0px"></div>
<div class="box" style="left:233.9px;top:1320.7px;width:556.7px;height:135.7px"></div>
<div class="box" style="left:883.4px;top:1320.7px;width:557.2px;height:131.9px"></div>
<svg width="1632" height="1500" style="left:0;top:0" viewBox="0 0 1632 1500">
<defs>
<linearGradient id="lp" x1="0" y1="0" x2="1" y2="0.3"><stop offset="0" stop-color="#cdd2da"/><stop offset="0.5" stop-color="#c3c8d1"/><stop offset="1" stop-color="#bcc2cc"/></linearGradient>
<linearGradient id="ad" x1="0" y1="0" x2="0" y2="1"><stop offset="0" stop-color="#bfc5ce"/><stop offset="1" stop-color="#cfd4db"/></linearGradient>
<linearGradient id="sh" x1="0" y1="0" x2="1" y2="1"><stop offset="0" stop-color="#a9b8cb"/><stop offset="0.5" stop-color="#b7c4d4"/><stop offset="1" stop-color="#a3b1c4"/></linearGradient>
</defs>
<polygon points="1283.2,661 1286,658.8 1294.3,658.8 1355,688 1361.7,694.1 1363.4,802 1405.5,829 1405.5,839 1357,862.5 1352,861.5 1291,819.5" fill="#b4bac4"/>
<polygon points="1283.6,661.5 1292,660.5 1356,690.5 1358.5,858 1353,859 1291.5,817.5" fill="url(#lp)"/>
<polygon points="1356,690.5 1361.7,694.8 1363.4,802 1358.2,806" fill="#aeb4be"/>
<polygon points="1358.2,806 1363.4,802 1405,829.5 1358.5,852" fill="#cfd3da"/>
<polygon points="1358.5,852 1405,829.5 1405.5,839 1357.5,862" fill="#b9bec7"/>
<rect x="1289.3999999999999" y="672" width="4.4" height="22" rx="2.2" fill="#8c9097"/>
<rect x="1290.6" y="709" width="4.4" height="22" rx="2.2" fill="#8c9097"/>
<rect x="1292.3" y="746" width="4.4" height="22" rx="2.2" fill="#8c9097"/>
<rect x="1293.8" y="781.5" width="4.4" height="22" rx="2.2" fill="#8c9097"/>
<rect x="1342.1" y="698.5" width="4.4" height="22" rx="2.2" fill="#8c9097"/>
<rect x="1343.0" y="737" width="4.4" height="22" rx="2.2" fill="#8c9097"/>
<rect x="1343.8" y="774" width="4.4" height="22" rx="2.2" fill="#8c9097"/>
<rect x="1344.6" y="811" width="4.4" height="22" rx="2.2" fill="#8c9097"/>
<rect x="1366" y="832" width="33" height="4.2" rx="2" fill="#8f939a" transform="rotate(-21 1382.5 834)"/>
<rect x="1138.9" y="983.8" width="9.2" height="8" rx="3" fill="#74787e" transform="rotate(6 1143.5 983.8)"/>
<rect x="1140.9" y="990.8" width="5.2" height="25.0" rx="1" fill="#8e9298" transform="rotate(6 1143.5 983.8)"/>
<rect x="1154.9" y="983.8" width="9.2" height="8" rx="3" fill="#74787e" transform="rotate(6 1159.5 983.8)"/>
<rect x="1156.9" y="990.8" width="5.2" height="25.0" rx="1" fill="#8e9298" transform="rotate(6 1159.5 983.8)"/>
<rect x="1188.0" y="988.2" width="8.4" height="7" rx="3" fill="#74787e" transform="rotate(6 1192.2 988.2)"/>
<rect x="1190.0" y="994.2" width="4.4" height="25.0" rx="1" fill="#8e9298" transform="rotate(6 1192.2 988.2)"/>
<rect x="1199.8" y="988.2" width="8.4" height="7" rx="3" fill="#74787e" transform="rotate(6 1204 988.2)"/>
<rect x="1201.8" y="994.2" width="4.4" height="25.0" rx="1" fill="#8e9298" transform="rotate(6 1204 988.2)"/>
<rect x="1222.7" y="990.6" width="7.2" height="6" rx="3" fill="#74787e" transform="rotate(6 1226.3 990.6)"/>
<rect x="1224.3" y="995.6" width="4" height="16.899999999999977" rx="1" fill="#8e9298" transform="rotate(6 1226.3 990.6)"/>
<rect x="1235.1000000000001" y="990.6" width="7.2" height="6" rx="3" fill="#74787e" transform="rotate(6 1238.7 990.6)"/>
<rect x="1236.7" y="995.6" width="4" height="16.899999999999977" rx="1" fill="#8e9298" transform="rotate(6 1238.7 990.6)"/>
<rect x="1246.9" y="990.6" width="7.2" height="6" rx="3" fill="#74787e" transform="rotate(6 1250.5 990.6)"/>
<rect x="1248.5" y="995.6" width="4" height="16.899999999999977" rx="1" fill="#8e9298" transform="rotate(6 1250.5 990.6)"/>
<rect x="1258.0" y="990.6" width="7.2" height="6" rx="3" fill="#74787e" transform="rotate(6 1261.6 990.6)"/>
<rect x="1259.6" y="995.6" width="4" height="16.899999999999977" rx="1" fill="#8e9298" transform="rotate(6 1261.6 990.6)"/>
<path d="M1121.5,1047 q-3.500,-9 3,-13 q9,-4 13.500,5 l6,19" fill="none" stroke="#c6ced7" stroke-width="3.2" stroke-linecap="round"/>
<path d="M1123,1044 q4,-4 7,0 l4.500,16" fill="none" stroke="#cdd4dc" stroke-width="2.4" stroke-linecap="round"/>
<path d="M1155.3,1047 q-3.500,-9 3,-13 q9,-4 13.500,5 l6,19" fill="none" stroke="#c6ced7" stroke-width="3.2" stroke-linecap="round"/>
<path d="M1156.8,1044 q4,-4 7,0 l4.500,16" fill="none" stroke="#cdd4dc" stroke-width="2.4" stroke-linecap="round"/>
<path d="M1186.5,1047 q-3.500,-9 3,-13 q9,-4 13.500,5 l6,19" fill="none" stroke="#c6ced7" stroke-width="3.2" stroke-linecap="round"/>
<path d="M1188,1044 q4,-4 7,0 l4.500,16" fill="none" stroke="#cdd4dc" stroke-width="2.4" stroke-linecap="round"/>
<path d="M1222.5,1047 q-3.500,-9 3,-13 q9,-4 13.500,5 l6,19" fill="none" stroke="#c6ced7" stroke-width="3.2" stroke-linecap="round"/>
<path d="M1224,1044 q4,-4 7,0 l4.500,16" fill="none" stroke="#cdd4dc" stroke-width="2.4" stroke-linecap="round"/>
<path d="M1252.0,1047 q-3.500,-9 3,-13 q9,-4 13.500,5 l6,19" fill="none" stroke="#c6ced7" stroke-width="3.2" stroke-linecap="round"/>
<path d="M1253.5,1044 q4,-4 7,0 l4.500,16" fill="none" stroke="#cdd4dc" stroke-width="2.4" stroke-linecap="round"/>
<path d="M1287.6,980.4 H1312.9 L1317.9,1065.4 H1290 L1289.3,1051 h5.5 a2.6,2.6 0 0 0 0,-5.200 h-5.700 L1288.300,997.500 h5.500 a2.600,2.600 0 0 0 0,-5.200 h-5.800 Z" fill="#c89a5a"/>
<path d="M1326.3,978.8 L1351.6,978 L1360,1061.3 L1333,1062 L1332.1,1050.4 h6 a2.6,2.6 0 0 0 0,-5.200 h-6.400 L1327.7,996.3 h6 a2.600,2.600 0 0 0 0,-5.200 h-6.400 Z" fill="url(#sh)"/>
<path d="M1367.8,976.4 L1392,976.4 L1403.2,1059.6 L1376.2,1061.3 L1375.0,1049.4 h6 a2.6,2.6 0 0 0 0,-5.200 h-6.400 L1369.6,994.2 h6 a2.600,2.600 0 0 0 0,-5.200 h-6.400 Z" fill="url(#sh)"/>
<path d="M1412.3,976 L1437.5,975.4 L1451.7,1058.6 L1424.7,1060.6 L1423.0,1048.8 h6 a2.6,2.6 0 0 0 0,-5.200 h-6.400 L1414.9,993.8 h6 a2.600,2.600 0 0 0 0,-5.200 h-6.400 Z" fill="url(#sh)"/>
<line x1="1086.4" y1="1113.6" x2="1224" y2="1100.0" stroke="#c9ced4" stroke-width="1.9"/>
<rect x="1221.5" y="1096.8" width="6" height="6" rx="1.2" fill="#c3c8cf"/>
<line x1="1086.4" y1="1129.8" x2="1224" y2="1116.3" stroke="#c9ced4" stroke-width="1.9"/>
<rect x="1221.5" y="1113.1" width="6" height="6" rx="1.2" fill="#c3c8cf"/>
<line x1="1086.4" y1="1145.9" x2="1224" y2="1132.6" stroke="#c9ced4" stroke-width="1.9"/>
<rect x="1221.5" y="1129.4" width="6" height="6" rx="1.2" fill="#c3c8cf"/>
<line x1="1086.4" y1="1162.0" x2="1224" y2="1148.9" stroke="#c9ced4" stroke-width="1.9"/>
<rect x="1221.5" y="1145.7" width="6" height="6" rx="1.2" fill="#c3c8cf"/>
<line x1="1086.4" y1="1178.2" x2="1224" y2="1165.2" stroke="#c9ced4" stroke-width="1.9"/>
<rect x="1221.5" y="1162.0" width="6" height="6" rx="1.2" fill="#c3c8cf"/>
<rect x="1273.7" y="1094.3" width="7.6" height="6.5" rx="3" fill="#74787e" transform="rotate(6 1277.5 1094.3)"/>
<rect x="1275.5" y="1099.8" width="4" height="12.100000000000136" rx="1" fill="#8e9298" transform="rotate(6 1277.5 1094.3)"/>
<rect x="1291.5" y="1094.3" width="7.6" height="6.5" rx="3" fill="#74787e" transform="rotate(6 1295.3 1094.3)"/>
<rect x="1293.3" y="1099.8" width="4" height="12.100000000000136" rx="1" fill="#8e9298" transform="rotate(6 1295.3 1094.3)"/>
<rect x="1311.1000000000001" y="1094.3" width="7.6" height="6.5" rx="3" fill="#74787e" transform="rotate(6 1314.9 1094.3)"/>
<rect x="1312.9" y="1099.8" width="4" height="12.100000000000136" rx="1" fill="#8e9298" transform="rotate(6 1314.9 1094.3)"/>
<rect x="1328.6000000000001" y="1094.3" width="7.6" height="6.5" rx="3" fill="#74787e" transform="rotate(6 1332.4 1094.3)"/>
<rect x="1330.4" y="1099.8" width="4" height="12.100000000000136" rx="1" fill="#8e9298" transform="rotate(6 1332.4 1094.3)"/>
<rect x="1347.8" y="1094.3" width="7.6" height="6.5" rx="3" fill="#74787e" transform="rotate(6 1351.6 1094.3)"/>
<rect x="1349.6" y="1099.8" width="4" height="12.100000000000136" rx="1" fill="#8e9298" transform="rotate(6 1351.6 1094.3)"/>
<ellipse cx="1371.2" cy="1104.5" rx="4.8999999999999995" ry="4.0" fill="none" stroke="#8e9299" stroke-width="2.2"/>
<ellipse cx="1388" cy="1102.5" rx="4.8999999999999995" ry="4.0" fill="none" stroke="#8e9299" stroke-width="2.2"/>
<ellipse cx="1403.9" cy="1102.6" rx="4" ry="3" fill="none" stroke="#9a9ea5" stroke-width="1.6"/>
<ellipse cx="1415" cy="1101.6" rx="4" ry="3" fill="none" stroke="#9a9ea5" stroke-width="1.6"/>
<ellipse cx="1426.8" cy="1101" rx="4" ry="3" fill="none" stroke="#9a9ea5" stroke-width="1.6"/>
<ellipse cx="1438.2" cy="1100.6" rx="4" ry="3" fill="none" stroke="#9a9ea5" stroke-width="1.6"/>
<ellipse cx="1448.7" cy="1100" rx="4" ry="3" fill="none" stroke="#9a9ea5" stroke-width="1.6"/>
<ellipse cx="1459.5" cy="1099.6" rx="4" ry="3" fill="none" stroke="#9a9ea5" stroke-width="1.6"/>
<ellipse cx="1283.5" cy="1132" rx="10" ry="7.4" fill="#9a9ea5"/><ellipse cx="1283.5" cy="1131.6" rx="3.6" ry="2.5" fill="#fff"/>
<ellipse cx="1315.6" cy="1132" rx="10" ry="7.4" fill="#9a9ea5"/><ellipse cx="1315.6" cy="1131.6" rx="3.6" ry="2.5" fill="#fff"/>
<ellipse cx="1340.5" cy="1131.8" rx="5.4" ry="4.2" fill="none" stroke="#9a9ea5" stroke-width="3.2"/>
<ellipse cx="1360.7" cy="1131.8" rx="5.4" ry="4.2" fill="none" stroke="#9a9ea5" stroke-width="3.2"/>
<ellipse cx="1382" cy="1131.8" rx="5.4" ry="4.2" fill="none" stroke="#9a9ea5" stroke-width="3.2"/>
<ellipse cx="1400.5" cy="1131.8" rx="5.4" ry="4.2" fill="none" stroke="#9a9ea5" stroke-width="3.2"/>
<ellipse cx="1419" cy="1131.8" rx="5.4" ry="4.2" fill="none" stroke="#9a9ea5" stroke-width="3.2"/>
<ellipse cx="1435.9" cy="1131.8" rx="5.4" ry="4.2" fill="none" stroke="#9a9ea5" stroke-width="3.2"/>
<ellipse cx="1454.4" cy="1131.8" rx="5.4" ry="4.2" fill="none" stroke="#9a9ea5" stroke-width="3.2"/>
<path d="M1277.6,1151.5 l4,-0.8 l1.2,2.2 l-1.6,0.8 l2.600,5.200 l-1.400,0.600 l-2.600,-5.200 l-1.600,0.400z" fill="#9da1a8"/>
<path d="M1287.8,1151.5 l4,-0.8 l1.2,2.2 l-1.6,0.8 l2.600,5.200 l-1.400,0.600 l-2.600,-5.200 l-1.600,0.400z" fill="#9da1a8"/>
<path d="M1297.8,1151.5 l4,-0.8 l1.2,2.2 l-1.6,0.8 l2.600,5.200 l-1.400,0.600 l-2.600,-5.200 l-1.600,0.400z" fill="#9da1a8"/>
<path d="M1309.0,1151.5 l4,-0.8 l1.2,2.2 l-1.6,0.8 l2.600,5.200 l-1.400,0.600 l-2.600,-5.200 l-1.600,0.400z" fill="#9da1a8"/>
<path d="M1319.1,1151.5 l4,-0.8 l1.2,2.2 l-1.6,0.8 l2.600,5.200 l-1.400,0.600 l-2.600,-5.200 l-1.600,0.400z" fill="#9da1a8"/>
<path d="M1329.8,1151.5 l4,-0.8 l1.2,2.2 l-1.6,0.8 l2.600,5.200 l-1.400,0.600 l-2.600,-5.200 l-1.600,0.400z" fill="#9da1a8"/>
<polygon points="304,1369 706,1337.2 708.3,1359 306.3,1395.6" fill="#c4cad2"/>
<polygon points="306.3,1395.6 708.3,1359 721.9,1380.8 310.8,1424.9" fill="url(#ad)"/>
<polygon points="304,1369 706,1337.2 706.3,1339.500 304.3,1371.4" fill="#d7dbe0"/>
<line x1="306.3" y1="1395.6" x2="708.3" y2="1359" stroke="#dfe2e6" stroke-width="1.4"/>
<polygon points="304,1369 306.3,1395.6 310.8,1424.9 313,1424.700 308.5,1395.4 306.2,1368.8" fill="#b1b7c0"/>
<polygon points="900,1390 1427.8,1349 1430,1363.6 905.4,1406.7" fill="#c7ccd4"/>
<polygon points="900,1390 1427.8,1349 1428.2,1351.4 900.8,1392.4" fill="#d9dce1"/>
<polygon points="903.5,1401 1429.3,1359.2 1430,1363.6 905.4,1406.7" fill="#bcc2cb"/>
</svg>
<div class="a" style="left:1228.6px;top:891.4px;font-size:18.7px">'L' shape support (included)</div>
<div class="a" style="left:1152.8px;top:1198.7px;font-size:18.65px">mounting accessories (included)</div>
<div class="a" style="left:407.1px;top:1430.4px;font-size:18.65px">anti-dust cover (included)</div>
<div class="a" style="left:1003px;top:1426.6px;font-size:18.65px">plain base (included, for L≥1500mm)</div>

<div class="a k" style="left:150.75px;top:1572.95px;width:604.70px;height:666.80px"></div>
<div class="a g" style="left:152.05px;top:1574.25px;width:171.60px;height:59.50px"></div>
<div class="a l" style="left:323.65px;top:1574.25px;width:430.50px;height:59.50px"></div>
<div class="a g" style="left:324.95px;top:1574.25px;width:429.20px;height:28.90px"></div>
<div class="a g" style="left:324.95px;top:1604.45px;width:213.90px;height:29.30px"></div>
<div class="a g" style="left:540.15px;top:1604.45px;width:214.00px;height:29.30px"></div>
<div class="a b" style="left:181.5px;top:1581.5px;font-size:21.4px;color:#fff">Effective</div>
<div class="a b" style="left:181.5px;top:1605.5px;font-size:21.4px;color:#fff">length (L)</div>
<div class="a b" style="left:511.5px;top:1578.0px;font-size:21.4px;color:#fff">Code</div>
<div class="a b" style="left:363.5px;top:1610.1px;font-size:21.4px;color:#fff">Series ISL-C1</div>
<div class="a b" style="left:573.5px;top:1610.1px;font-size:21.4px;color:#fff">Series ISL-C5</div>
<div class="a y" style="left:152.05px;top:1635.05px;width:171.60px;height:28.93px"></div>
<div class="a y" style="left:324.95px;top:1635.05px;width:213.90px;height:28.93px"></div>
<div class="a y" style="left:540.15px;top:1635.05px;width:214.00px;height:28.93px"></div>
<div class="a" style="left:193.5px;top:1640.0px;font-size:21.4px">50mm</div>
<div class="a b" style="left:362.0px;top:1640.0px;font-size:21.4px">ISL-C1-50</div>
<div class="a b" style="left:573.0px;top:1640.0px;font-size:21.4px">ISL-C5-50</div>
<div class="a y" style="left:152.05px;top:1665.29px;width:171.60px;height:28.93px"></div>
<div class="a y" style="left:324.95px;top:1665.29px;width:213.90px;height:28.93px"></div>
<div class="a y" style="left:540.15px;top:1665.29px;width:214.00px;height:28.93px"></div>
<div class="a" style="left:193.5px;top:1670.2px;font-size:21.4px">100mm</div>
<div class="a b" style="left:362.0px;top:1670.2px;font-size:21.4px">ISL-C1-100</div>
<div class="a b" style="left:573.0px;top:1670.2px;font-size:21.4px">ISL-C5-100</div>
<div class="a y" style="left:152.05px;top:1695.52px;width:171.60px;height:28.93px"></div>
<div class="a y" style="left:324.95px;top:1695.52px;width:213.90px;height:28.93px"></div>
<div class="a y" style="left:540.15px;top:1695.52px;width:214.00px;height:28.93px"></div>
<div class="a" style="left:193.5px;top:1700.5px;font-size:21.4px">150mm</div>
<div class="a b" style="left:362.0px;top:1700.5px;font-size:21.4px">ISL-C1-150</div>
<div class="a b" style="left:573.0px;top:1700.5px;font-size:21.4px">ISL-C5-150</div>
<div class="a y" style="left:152.05px;top:1725.76px;width:171.60px;height:28.93px"></div>
<div class="a y" style="left:324.95px;top:1725.76px;width:213.90px;height:28.93px"></div>
<div class="a y" style="left:540.15px;top:1725.76px;width:214.00px;height:28.93px"></div>
<div class="a" style="left:193.5px;top:1730.7px;font-size:21.4px">200mm</div>
<div class="a b" style="left:362.0px;top:1730.7px;font-size:21.4px">ISL-C1-200</div>
<div class="a b" style="left:573.0px;top:1730.7px;font-size:21.4px">ISL-C5-200</div>
<div class="a y" style="left:152.05px;top:1755.99px;width:171.60px;height:28.93px"></div>
<div class="a y" style="left:324.95px;top:1755.99px;width:213.90px;height:28.93px"></div>
<div class="a y" style="left:540.15px;top:1755.99px;width:214.00px;height:28.93px"></div>
<div class="a" style="left:193.5px;top:1760.9px;font-size:21.4px">250mm</div>
<div class="a b" style="left:362.0px;top:1760.9px;font-size:21.4px">ISL-C1-250</div>
<div class="a b" style="left:573.0px;top:1760.9px;font-size:21.4px">ISL-C5-250</div>
<div class="a y" style="left:152.05px;top:1786.23px;width:171.60px;height:28.93px"></div>
<div class="a y" style="left:324.95px;top:1786.23px;width:213.90px;height:28.93px"></div>
<div class="a y" style="left:540.15px;top:1786.23px;width:214.00px;height:28.93px"></div>
<div class="a" style="left:193.5px;top:1791.2px;font-size:21.4px">300mm</div>
<div class="a b" style="left:362.0px;top:1791.2px;font-size:21.4px">ISL-C1-300</div>
<div class="a b" style="left:573.0px;top:1791.2px;font-size:21.4px">ISL-C5-300</div>
<div class="a y" style="left:152.05px;top:1816.46px;width:171.60px;height:28.93px"></div>
<div class="a y" style="left:324.95px;top:1816.46px;width:213.90px;height:28.93px"></div>
<div class="a y" style="left:540.15px;top:1816.46px;width:214.00px;height:28.93px"></div>
<div class="a" style="left:193.5px;top:1821.4px;font-size:21.4px">350mm</div>
<div class="a b" style="left:362.0px;top:1821.4px;font-size:21.4px">ISL-C1-350</div>
<div class="a b" style="left:573.0px;top:1821.4px;font-size:21.4px">ISL-C5-350</div>
<div class="a y" style="left:152.05px;top:1846.70px;width:171.60px;height:28.93px"></div>
<div class="a y" style="left:324.95px;top:1846.70px;width:213.90px;height:28.93px"></div>
<div class="a y" style="left:540.15px;top:1846.70px;width:214.00px;height:28.93px"></div>
<div class="a" style="left:193.5px;top:1851.6px;font-size:21.4px">400mm</div>
<div class="a b" style="left:362.0px;top:1851.6px;font-size:21.4px">ISL-C1-400</div>
<div class="a b" style="left:573.0px;top:1851.6px;font-size:21.4px">ISL-C5-400</div>
<div class="a y" style="left:152.05px;top:1876.93px;width:171.60px;height:28.93px"></div>
<div class="a y" style="left:324.95px;top:1876.93px;width:213.90px;height:28.93px"></div>
<div class="a y" style="left:540.15px;top:1876.93px;width:214.00px;height:28.93px"></div>
<div class="a" style="left:193.5px;top:1881.9px;font-size:21.4px">450mm</div>
<div class="a b" style="left:362.0px;top:1881.9px;font-size:21.4px">ISL-C1-450</div>
<div class="a b" style="left:573.0px;top:1881.9px;font-size:21.4px">ISL-C5-450</div>
<div class="a y" style="left:152.05px;top:1907.17px;width:171.60px;height:28.93px"></div>
<div class="a y" style="left:324.95px;top:1907.17px;width:213.90px;height:28.93px"></div>
<div class="a y" style="left:540.15px;top:1907.17px;width:214.00px;height:28.93px"></div>
<div class="a" style="left:193.5px;top:1912.1px;font-size:21.4px">500mm</div>
<div class="a b" style="left:362.0px;top:1912.1px;font-size:21.4px">ISL-C1-500</div>
<div class="a b" style="left:573.0px;top:1912.1px;font-size:21.4px">ISL-C5-500</div>
<div class="a y" style="left:152.05px;top:1937.40px;width:171.60px;height:28.93px"></div>
<div class="a y" style="left:324.95px;top:1937.40px;width:213.90px;height:28.93px"></div>
<div class="a y" style="left:540.15px;top:1937.40px;width:214.00px;height:28.93px"></div>
<div class="a" style="left:193.5px;top:1942.3px;font-size:21.4px">550mm</div>
<div class="a b" style="left:362.0px;top:1942.3px;font-size:21.4px">ISL-C1-550</div>
<div class="a b" style="left:573.0px;top:1942.3px;font-size:21.4px">ISL-C5-550</div>
<div class="a y" style="left:152.05px;top:1967.64px;width:171.60px;height:28.93px"></div>
<div class="a y" style="left:324.95px;top:1967.64px;width:213.90px;height:28.93px"></div>
<div class="a y" style="left:540.15px;top:1967.64px;width:214.00px;height:28.93px"></div>
<div class="a" style="left:193.5px;top:1972.6px;font-size:21.4px">600mm</div>
<div class="a b" style="left:362.0px;top:1972.6px;font-size:21.4px">ISL-C1-600</div>
<div class="a b" style="left:573.0px;top:1972.6px;font-size:21.4px">ISL-C5-600</div>
<div class="a y" style="left:152.05px;top:1997.87px;width:171.60px;height:28.93px"></div>
<div class="a y" style="left:324.95px;top:1997.87px;width:213.90px;height:28.93px"></div>
<div class="a y" style="left:540.15px;top:1997.87px;width:214.00px;height:28.93px"></div>
<div class="a" style="left:193.5px;top:2002.8px;font-size:21.4px">650mm</div>
<div class="a b" style="left:362.0px;top:2002.8px;font-size:21.4px">ISL-C1-650</div>
<div class="a b" style="left:573.0px;top:2002.8px;font-size:21.4px">ISL-C5-650</div>
<div class="a y" style="left:152.05px;top:2028.11px;width:171.60px;height:28.93px"></div>
<div class="a y" style="left:324.95px;top:2028.11px;width:213.90px;height:28.93px"></div>
<div class="a y" style="left:540.15px;top:2028.11px;width:214.00px;height:28.93px"></div>
<div class="a" style="left:193.5px;top:2033.0px;font-size:21.4px">700mm</div>
<div class="a b" style="left:362.0px;top:2033.0px;font-size:21.4px">ISL-C1-700</div>
<div class="a b" style="left:573.0px;top:2033.0px;font-size:21.4px">ISL-C5-700</div>
<div class="a y" style="left:152.05px;top:2058.34px;width:171.60px;height:28.93px"></div>
<div class="a y" style="left:324.95px;top:2058.34px;width:213.90px;height:28.93px"></div>
<div class="a y" style="left:540.15px;top:2058.34px;width:214.00px;height:28.93px"></div>
<div class="a" style="left:193.5px;top:2063.3px;font-size:21.4px">750mm</div>
<div class="a b" style="left:362.0px;top:2063.3px;font-size:21.4px">ISL-C1-750</div>
<div class="a b" style="left:573.0px;top:2063.3px;font-size:21.4px">ISL-C5-750</div>
<div class="a y" style="left:152.05px;top:2088.58px;width:171.60px;height:28.93px"></div>
<div class="a y" style="left:324.95px;top:2088.58px;width:213.90px;height:28.93px"></div>
<div class="a y" style="left:540.15px;top:2088.58px;width:214.00px;height:28.93px"></div>
<div class="a" style="left:193.5px;top:2093.5px;font-size:21.4px">800mm</div>
<div class="a b" style="left:362.0px;top:2093.5px;font-size:21.4px">ISL-C1-800</div>
<div class="a b" style="left:573.0px;top:2093.5px;font-size:21.4px">ISL-C5-800</div>
<div class="a y" style="left:152.05px;top:2118.81px;width:171.60px;height:28.93px"></div>
<div class="a y" style="left:324.95px;top:2118.81px;width:213.90px;height:28.93px"></div>
<div class="a y" style="left:540.15px;top:2118.81px;width:214.00px;height:28.93px"></div>
<div class="a" style="left:193.5px;top:2123.7px;font-size:21.4px">850mm</div>
<div class="a b" style="left:362.0px;top:2123.7px;font-size:21.4px">ISL-C1-850</div>
<div class="a b" style="left:573.0px;top:2123.7px;font-size:21.4px">ISL-C5-850</div>
<div class="a y" style="left:152.05px;top:2149.05px;width:171.60px;height:28.93px"></div>
<div class="a y" style="left:324.95px;top:2149.05px;width:213.90px;height:28.93px"></div>
<div class="a y" style="left:540.15px;top:2149.05px;width:214.00px;height:28.93px"></div>
<div class="a" style="left:193.5px;top:2154.0px;font-size:21.4px">900mm</div>
<div class="a b" style="left:362.0px;top:2154.0px;font-size:21.4px">ISL-C1-900</div>
<div class="a b" style="left:573.0px;top:2154.0px;font-size:21.4px">ISL-C5-900</div>
<div class="a y" style="left:152.05px;top:2179.28px;width:171.60px;height:28.93px"></div>
<div class="a y" style="left:324.95px;top:2179.28px;width:213.90px;height:28.93px"></div>
<div class="a y" style="left:540.15px;top:2179.28px;width:214.00px;height:28.93px"></div>
<div class="a" style="left:193.5px;top:2184.2px;font-size:21.4px">950mm</div>
<div class="a b" style="left:362.0px;top:2184.2px;font-size:21.4px">ISL-C1-950</div>
<div class="a b" style="left:573.0px;top:2184.2px;font-size:21.4px">ISL-C5-950</div>
<div class="a y" style="left:152.05px;top:2209.52px;width:171.60px;height:28.93px"></div>
<div class="a y" style="left:324.95px;top:2209.52px;width:213.90px;height:28.93px"></div>
<div class="a y" style="left:540.15px;top:2209.52px;width:214.00px;height:28.93px"></div>
<div class="a" style="left:193.5px;top:2214.4px;font-size:21.4px">1000mm</div>
<div class="a b" style="left:362.0px;top:2214.4px;font-size:21.4px">ISL-C1-1000</div>
<div class="a b" style="left:573.0px;top:2214.4px;font-size:21.4px">ISL-C5-1000</div>
<div class="a k" style="left:933.75px;top:1575.55px;width:587.40px;height:667.00px"></div>
<div class="a g" style="left:935.05px;top:1576.85px;width:183.90px;height:59.60px"></div>
<div class="a l" style="left:1118.95px;top:1576.85px;width:400.90px;height:59.60px"></div>
<div class="a g" style="left:1120.25px;top:1576.85px;width:399.60px;height:29.60px"></div>
<div class="a g" style="left:1120.25px;top:1607.75px;width:187.20px;height:28.70px"></div>
<div class="a g" style="left:1308.75px;top:1607.75px;width:211.10px;height:28.70px"></div>
<div class="a b" style="left:967.0px;top:1584.3px;font-size:21.4px;color:#fff">Effective</div>
<div class="a b" style="left:967.0px;top:1606.9px;font-size:21.4px;color:#fff">length (L)</div>
<div class="a b" style="left:1287.0px;top:1584.2px;font-size:21.4px;color:#fff">Code</div>
<div class="a b" style="left:1146.0px;top:1615.1px;font-size:21.4px;color:#fff">Series ISL-C1</div>
<div class="a b" style="left:1345.0px;top:1613.5px;font-size:21.4px;color:#fff">Series ISL-C5</div>
<div class="a y" style="left:935.05px;top:1637.75px;width:183.90px;height:28.94px"></div>
<div class="a y" style="left:1120.25px;top:1637.75px;width:187.20px;height:28.94px"></div>
<div class="a y" style="left:1308.75px;top:1637.75px;width:211.10px;height:28.94px"></div>
<div class="a" style="left:983.0px;top:1642.4px;font-size:21.4px">1100mm</div>
<div class="a b" style="left:1144.0px;top:1642.4px;font-size:21.4px">ISL-C1-1100</div>
<div class="a b" style="left:1344.0px;top:1642.4px;font-size:21.4px">ISL-C5-1100</div>
<div class="a y" style="left:935.05px;top:1667.99px;width:183.90px;height:28.94px"></div>
<div class="a y" style="left:1120.25px;top:1667.99px;width:187.20px;height:28.94px"></div>
<div class="a y" style="left:1308.75px;top:1667.99px;width:211.10px;height:28.94px"></div>
<div class="a" style="left:983.0px;top:1672.7px;font-size:21.4px">1200mm</div>
<div class="a b" style="left:1144.0px;top:1672.7px;font-size:21.4px">ISL-C1-1200</div>
<div class="a b" style="left:1344.0px;top:1672.7px;font-size:21.4px">ISL-C5-1200</div>
<div class="a y" style="left:935.05px;top:1698.23px;width:183.90px;height:28.94px"></div>
<div class="a y" style="left:1120.25px;top:1698.23px;width:187.20px;height:28.94px"></div>
<div class="a y" style="left:1308.75px;top:1698.23px;width:211.10px;height:28.94px"></div>
<div class="a" style="left:983.0px;top:1703.0px;font-size:21.4px">1300mm</div>
<div class="a b" style="left:1144.0px;top:1703.0px;font-size:21.4px">ISL-C1-1300</div>
<div class="a b" style="left:1344.0px;top:1703.0px;font-size:21.4px">ISL-C5-1300</div>
<div class="a y" style="left:935.05px;top:1728.47px;width:183.90px;height:28.94px"></div>
<div class="a y" style="left:1120.25px;top:1728.47px;width:187.20px;height:28.94px"></div>
<div class="a y" style="left:1308.75px;top:1728.47px;width:211.10px;height:28.94px"></div>
<div class="a" style="left:983.0px;top:1733.3px;font-size:21.4px">1400mm</div>
<div class="a b" style="left:1144.0px;top:1733.3px;font-size:21.4px">ISL-C1-1400</div>
<div class="a b" style="left:1344.0px;top:1733.3px;font-size:21.4px">ISL-C5-1400</div>
<div class="a y" style="left:935.05px;top:1758.71px;width:183.90px;height:28.94px"></div>
<div class="a y" style="left:1120.25px;top:1758.71px;width:187.20px;height:28.94px"></div>
<div class="a y" style="left:1308.75px;top:1758.71px;width:211.10px;height:28.94px"></div>
<div class="a" style="left:983.0px;top:1763.6px;font-size:21.4px">1500mm</div>
<div class="a b" style="left:1144.0px;top:1763.6px;font-size:21.4px">ISL-C1-1500</div>
<div class="a b" style="left:1344.0px;top:1763.6px;font-size:21.4px">ISL-C5-1500</div>
<div class="a y" style="left:935.05px;top:1788.95px;width:183.90px;height:28.94px"></div>
<div class="a y" style="left:1120.25px;top:1788.95px;width:187.20px;height:28.94px"></div>
<div class="a y" style="left:1308.75px;top:1788.95px;width:211.10px;height:28.94px"></div>
<div class="a" style="left:983.0px;top:1793.9px;font-size:21.4px">1600mm</div>
<div class="a b" style="left:1144.0px;top:1793.9px;font-size:21.4px">ISL-C1-1600</div>
<div class="a b" style="left:1344.0px;top:1793.9px;font-size:21.4px">ISL-C5-1600</div>
<div class="a y" style="left:935.05px;top:1819.19px;width:183.90px;height:28.94px"></div>
<div class="a y" style="left:1120.25px;top:1819.19px;width:187.20px;height:28.94px"></div>
<div class="a y" style="left:1308.75px;top:1819.19px;width:211.10px;height:28.94px"></div>
<div class="a" style="left:983.0px;top:1824.2px;font-size:21.4px">1700mm</div>
<div class="a b" style="left:1144.0px;top:1824.2px;font-size:21.4px">ISL-C1-1700</div>
<div class="a b" style="left:1344.0px;top:1824.2px;font-size:21.4px">ISL-C5-1700</div>
<div class="a y" style="left:935.05px;top:1849.43px;width:183.90px;height:28.94px"></div>
<div class="a y" style="left:1120.25px;top:1849.43px;width:187.20px;height:28.94px"></div>
<div class="a y" style="left:1308.75px;top:1849.43px;width:211.10px;height:28.94px"></div>
<div class="a" style="left:983.0px;top:1854.6px;font-size:21.4px">1800mm</div>
<div class="a b" style="left:1144.0px;top:1854.6px;font-size:21.4px">ISL-C1-1800</div>
<div class="a b" style="left:1344.0px;top:1854.6px;font-size:21.4px">ISL-C5-1800</div>
<div class="a y" style="left:935.05px;top:1879.67px;width:183.90px;height:28.94px"></div>
<div class="a y" style="left:1120.25px;top:1879.67px;width:187.20px;height:28.94px"></div>
<div class="a y" style="left:1308.75px;top:1879.67px;width:211.10px;height:28.94px"></div>
<div class="a" style="left:983.0px;top:1884.9px;font-size:21.4px">1900mm</div>
<div class="a b" style="left:1144.0px;top:1884.9px;font-size:21.4px">ISL-C1-1900</div>
<div class="a b" style="left:1344.0px;top:1884.9px;font-size:21.4px">ISL-C5-1900</div>
<div class="a y" style="left:935.05px;top:1909.91px;width:183.90px;height:28.94px"></div>
<div class="a y" style="left:1120.25px;top:1909.91px;width:187.20px;height:28.94px"></div>
<div class="a y" style="left:1308.75px;top:1909.91px;width:211.10px;height:28.94px"></div>
<div class="a" style="left:983.0px;top:1915.2px;font-size:21.4px">2000mm</div>
<div class="a b" style="left:1144.0px;top:1915.2px;font-size:21.4px">ISL-C1-2000</div>
<div class="a b" style="left:1344.0px;top:1915.2px;font-size:21.4px">ISL-C5-2000</div>
<div class="a y" style="left:935.05px;top:1940.15px;width:183.90px;height:28.94px"></div>
<div class="a y" style="left:1120.25px;top:1940.15px;width:187.20px;height:28.94px"></div>
<div class="a y" style="left:1308.75px;top:1940.15px;width:211.10px;height:28.94px"></div>
<div class="a" style="left:983.0px;top:1945.5px;font-size:21.4px">2100mm</div>
<div class="a b" style="left:1144.0px;top:1945.5px;font-size:21.4px">ISL-C1-2100</div>
<div class="a b" style="left:1344.0px;top:1945.5px;font-size:21.4px">ISL-C5-2100</div>
<div class="a y" style="left:935.05px;top:1970.39px;width:183.90px;height:28.94px"></div>
<div class="a y" style="left:1120.25px;top:1970.39px;width:187.20px;height:28.94px"></div>
<div class="a y" style="left:1308.75px;top:1970.39px;width:211.10px;height:28.94px"></div>
<div class="a" style="left:983.0px;top:1975.8px;font-size:21.4px">2200mm</div>
<div class="a b" style="left:1144.0px;top:1975.8px;font-size:21.4px">ISL-C1-2200</div>
<div class="a b" style="left:1344.0px;top:1975.8px;font-size:21.4px">ISL-C5-2200</div>
<div class="a y" style="left:935.05px;top:2000.63px;width:183.90px;height:28.94px"></div>
<div class="a y" style="left:1120.25px;top:2000.63px;width:187.20px;height:28.94px"></div>
<div class="a y" style="left:1308.75px;top:2000.63px;width:211.10px;height:28.94px"></div>
<div class="a" style="left:983.0px;top:2006.1px;font-size:21.4px">2300mm</div>
<div class="a b" style="left:1144.0px;top:2006.1px;font-size:21.4px">ISL-C1-2300</div>
<div class="a b" style="left:1344.0px;top:2006.1px;font-size:21.4px">ISL-C5-2300</div>
<div class="a y" style="left:935.05px;top:2030.87px;width:183.90px;height:28.94px"></div>
<div class="a y" style="left:1120.25px;top:2030.87px;width:187.20px;height:28.94px"></div>
<div class="a y" style="left:1308.75px;top:2030.87px;width:211.10px;height:28.94px"></div>
<div class="a" style="left:983.0px;top:2036.4px;font-size:21.4px">2400mm</div>
<div class="a b" style="left:1144.0px;top:2036.4px;font-size:21.4px">ISL-C1-2400</div>
<div class="a b" style="left:1344.0px;top:2036.4px;font-size:21.4px">ISL-C5-2400</div>
<div class="a y" style="left:935.05px;top:2061.11px;width:183.90px;height:28.94px"></div>
<div class="a y" style="left:1120.25px;top:2061.11px;width:187.20px;height:28.94px"></div>
<div class="a y" style="left:1308.75px;top:2061.11px;width:211.10px;height:28.94px"></div>
<div class="a" style="left:983.0px;top:2066.7px;font-size:21.4px">2500mm</div>
<div class="a b" style="left:1144.0px;top:2066.7px;font-size:21.4px">ISL-C1-2500</div>
<div class="a b" style="left:1344.0px;top:2066.7px;font-size:21.4px">ISL-C5-2500</div>
<div class="a y" style="left:935.05px;top:2091.35px;width:183.90px;height:28.94px"></div>
<div class="a y" style="left:1120.25px;top:2091.35px;width:187.20px;height:28.94px"></div>
<div class="a y" style="left:1308.75px;top:2091.35px;width:211.10px;height:28.94px"></div>
<div class="a" style="left:983.0px;top:2097.0px;font-size:21.4px">2600mm</div>
<div class="a b" style="left:1144.0px;top:2097.0px;font-size:21.4px">ISL-C1-2600</div>
<div class="a b" style="left:1344.0px;top:2097.0px;font-size:21.4px">ISL-C5-2600</div>
<div class="a y" style="left:935.05px;top:2121.59px;width:183.90px;height:28.94px"></div>
<div class="a y" style="left:1120.25px;top:2121.59px;width:187.20px;height:28.94px"></div>
<div class="a y" style="left:1308.75px;top:2121.59px;width:211.10px;height:28.94px"></div>
<div class="a" style="left:983.0px;top:2127.3px;font-size:21.4px">2700mm</div>
<div class="a b" style="left:1144.0px;top:2127.3px;font-size:21.4px">ISL-C1-2700</div>
<div class="a b" style="left:1344.0px;top:2127.3px;font-size:21.4px">ISL-C5-2700</div>
<div class="a y" style="left:935.05px;top:2151.83px;width:183.90px;height:28.94px"></div>
<div class="a y" style="left:1120.25px;top:2151.83px;width:187.20px;height:28.94px"></div>
<div class="a y" style="left:1308.75px;top:2151.83px;width:211.10px;height:28.94px"></div>
<div class="a" style="left:983.0px;top:2157.7px;font-size:21.4px">2800mm</div>
<div class="a b" style="left:1144.0px;top:2157.7px;font-size:21.4px">ISL-C1-2800</div>
<div class="a b" style="left:1344.0px;top:2157.7px;font-size:21.4px">ISL-C5-2800</div>
<div class="a y" style="left:935.05px;top:2182.07px;width:183.90px;height:28.94px"></div>
<div class="a y" style="left:1120.25px;top:2182.07px;width:187.20px;height:28.94px"></div>
<div class="a y" style="left:1308.75px;top:2182.07px;width:211.10px;height:28.94px"></div>
<div class="a" style="left:983.0px;top:2188.0px;font-size:21.4px">2900mm</div>
<div class="a b" style="left:1144.0px;top:2188.0px;font-size:21.4px">ISL-C1-2900</div>
<div class="a b" style="left:1344.0px;top:2188.0px;font-size:21.4px">ISL-C5-2900</div>
<div class="a y" style="left:935.05px;top:2212.31px;width:183.90px;height:28.94px"></div>
<div class="a y" style="left:1120.25px;top:2212.31px;width:187.20px;height:28.94px"></div>
<div class="a y" style="left:1308.75px;top:2212.31px;width:211.10px;height:28.94px"></div>
<div class="a" style="left:983.0px;top:2218.3px;font-size:21.4px">3000mm</div>
<div class="a b" style="left:1144.0px;top:2218.3px;font-size:21.4px">ISL-C1-3000</div>
<div class="a b" style="left:1344.0px;top:2218.3px;font-size:21.4px">ISL-C5-3000</div>
<div class="a b" style="left:151.0px;top:2336.1px;font-size:21.15px">SPECIFICATION</div>
<div class="a k" style="left:150.85px;top:2363.85px;width:1370.10px;height:424.94px"></div>
<div class="a l" style="left:152.15px;top:2365.15px;width:325.70px;height:422.34px"></div>
<div class="a g" style="left:152.15px;top:2365.15px;width:325.70px;height:28.96px"></div>
<div class="a y" style="left:479.15px;top:2365.15px;width:532.10px;height:28.96px"></div>
<div class="a y" style="left:1012.55px;top:2365.15px;width:507.10px;height:28.96px"></div>
<div class="a b" style="left:166.5px;top:2369.9px;font-size:21.4px;color:#fff">Code</div>
<div class="a b" style="left:496.5px;top:2369.9px;font-size:21.4px">Series ISL-C1</div>
<div class="a b" style="left:1027.4px;top:2369.9px;font-size:21.4px">Series ISL-C5</div>
<div class="a g" style="left:152.15px;top:2395.41px;width:325.70px;height:28.96px"></div>
<div class="a y" style="left:479.15px;top:2395.41px;width:532.10px;height:28.96px"></div>
<div class="a y" style="left:1012.55px;top:2395.41px;width:507.10px;height:28.96px"></div>
<div class="a b" style="left:166.5px;top:2397.6px;font-size:21.4px;color:#fff">L1 (mm)</div>
<div class="a" style="left:496.5px;top:2397.6px;font-size:21.4px">L+30 (L≤900), L+50 (L&gt;900)</div>
<div class="a" style="left:1027.4px;top:2397.6px;font-size:21.4px">L+30 (L≤900), L+50 (L&gt;900)</div>
<div class="a g" style="left:152.15px;top:2425.67px;width:325.70px;height:28.96px"></div>
<div class="a y" style="left:479.15px;top:2425.67px;width:532.10px;height:28.96px"></div>
<div class="a y" style="left:1012.55px;top:2425.67px;width:507.10px;height:28.96px"></div>
<div class="a b" style="left:166.5px;top:2428.2px;font-size:21.4px;color:#fff">L2 (mm)</div>
<div class="a" style="left:496.5px;top:2428.2px;font-size:21.4px">L+136 (L≤900), L+156 (L&gt;900)</div>
<div class="a" style="left:1027.4px;top:2428.2px;font-size:21.4px">L+136 (L≤900), L+156 (L&gt;900)</div>
<div class="a g" style="left:152.15px;top:2455.93px;width:325.70px;height:28.96px"></div>
<div class="a y" style="left:479.15px;top:2455.93px;width:532.10px;height:28.96px"></div>
<div class="a y" style="left:1012.55px;top:2455.93px;width:507.10px;height:28.96px"></div>
<div class="a b" style="left:166.5px;top:2458.2px;font-size:21.4px;color:#fff">L3 (mm)</div>
<div class="a" style="left:496.5px;top:2458.2px;font-size:21.4px">L+154 (L≤900), L+174 (L&gt;900)</div>
<div class="a" style="left:1027.4px;top:2458.2px;font-size:21.4px">L+154 (L≤900), L+174 (L&gt;900)</div>
<div class="a g" style="left:152.15px;top:2486.19px;width:325.70px;height:28.96px"></div>
<div class="a y" style="left:479.15px;top:2486.19px;width:532.10px;height:28.96px"></div>
<div class="a y" style="left:1012.55px;top:2486.19px;width:507.10px;height:28.96px"></div>
<div class="a b" style="left:166.5px;top:2490.9px;font-size:21.4px;color:#fff">Resolution</div>
<div class="a" style="left:496.5px;top:2489.2px;font-size:21.4px">1μm</div>
<div class="a" style="left:1027.4px;top:2489.2px;font-size:21.4px">5μm</div>
<div class="a g" style="left:152.15px;top:2516.45px;width:325.70px;height:28.96px"></div>
<div class="a y" style="left:479.15px;top:2516.45px;width:1040.50px;height:28.96px"></div>
<div class="a b" style="left:166.5px;top:2520.5px;font-size:21.4px;color:#fff">Thickness</div>
<div class="a" style="left:496.5px;top:2520.5px;font-size:21.4px">29mm</div>
<div class="a g" style="left:152.15px;top:2546.71px;width:325.70px;height:28.96px"></div>
<div class="a y" style="left:479.15px;top:2546.71px;width:1040.50px;height:28.96px"></div>
<div class="a b" style="left:166.5px;top:2548.5px;font-size:21.4px;color:#fff">Max. response speed</div>
<div class="a" style="left:496.5px;top:2550.7px;font-size:21.4px">60m/min</div>
<div class="a g" style="left:152.15px;top:2576.97px;width:325.70px;height:28.96px"></div>
<div class="a y" style="left:479.15px;top:2576.97px;width:1040.50px;height:28.96px"></div>
<div class="a b" style="left:166.5px;top:2579.2px;font-size:21.4px;color:#fff">Scale grating pitch</div>
<div class="a" style="left:496.5px;top:2579.2px;font-size:21.4px">20μm</div>
<div class="a g" style="left:152.15px;top:2607.23px;width:325.70px;height:28.96px"></div>
<div class="a y" style="left:479.15px;top:2607.23px;width:1040.50px;height:28.96px"></div>
<div class="a b" style="left:166.5px;top:2609.8px;font-size:21.4px;color:#fff">Scale reference point pitch</div>
<div class="a" style="left:496.5px;top:2612.3px;font-size:21.4px">50mm</div>
<div class="a g" style="left:152.15px;top:2637.49px;width:325.70px;height:28.96px"></div>
<div class="a y" style="left:479.15px;top:2637.49px;width:1040.50px;height:28.96px"></div>
<div class="a b" style="left:166.5px;top:2638.5px;font-size:21.4px;color:#fff">Accuracy</div>
<div class="a" style="left:496.5px;top:2639.5px;font-size:21.4px">±(5+5L/1000)μm, L is the effective length in mm</div>
<div class="a g" style="left:152.15px;top:2667.75px;width:325.70px;height:28.96px"></div>
<div class="a y" style="left:479.15px;top:2667.75px;width:1040.50px;height:28.96px"></div>
<div class="a b" style="left:166.5px;top:2670.3px;font-size:21.4px;color:#fff">Cable length</div>
<div class="a" style="left:496.5px;top:2670.3px;font-size:21.4px">3.5m (L: 50-950mm), 5m (L: 1000-1900mm), 10m (L: 2000-3000mm)</div>
<div class="a g" style="left:152.15px;top:2698.01px;width:325.70px;height:28.96px"></div>
<div class="a y" style="left:479.15px;top:2698.01px;width:1040.50px;height:28.96px"></div>
<div class="a b" style="left:166.5px;top:2700.2px;font-size:21.4px;color:#fff">Output signal</div>
<div class="a" style="left:496.5px;top:2702.0px;font-size:21.4px">RS422</div>
<div class="a g" style="left:152.15px;top:2728.27px;width:325.70px;height:28.96px"></div>
<div class="a y" style="left:479.15px;top:2728.27px;width:1040.50px;height:28.96px"></div>
<div class="a b" style="left:166.5px;top:2732.3px;font-size:21.4px;color:#fff">Socket</div>
<div class="a" style="left:496.5px;top:2732.3px;font-size:21.4px">9 PD</div>
<div class="a g" style="left:152.15px;top:2758.53px;width:325.70px;height:28.96px"></div>
<div class="a y" style="left:479.15px;top:2758.53px;width:1040.50px;height:28.96px"></div>
<div class="a b" style="left:166.5px;top:2760.1px;font-size:21.4px;color:#fff">Power supply</div>
<div class="a" style="left:496.5px;top:2762.6px;font-size:21.4px">5±0.25V</div>
<div class="a b" style="left:151.0px;top:2862.6px;font-size:21.2px;word-spacing:-1.6px">STANDARD DELIVERY</div>
<div class="a k" style="left:150.85px;top:2888.15px;width:649.10px;height:152.95px"></div>
<div class="a l" style="left:152.15px;top:2889.45px;width:325.70px;height:150.35px"></div>
<div class="a g" style="left:152.15px;top:2889.45px;width:325.70px;height:29.03px"></div>
<div class="a y" style="left:479.15px;top:2889.45px;width:319.50px;height:29.03px"></div>
<div class="a b" style="left:163.5px;top:2893.5px;font-size:21.4px;color:#fff">Main unit</div>
<div class="a" style="left:496.5px;top:2893.2px;font-size:21.4px">1 pc</div>
<div class="a g" style="left:152.15px;top:2919.78px;width:325.70px;height:29.03px"></div>
<div class="a y" style="left:479.15px;top:2919.78px;width:319.50px;height:29.03px"></div>
<div class="a b" style="left:163.5px;top:2924.1px;font-size:21.4px;color:#fff">'L' shape support</div>
<div class="a" style="left:496.5px;top:2924.1px;font-size:21.4px">1 pc</div>
<div class="a g" style="left:152.15px;top:2950.11px;width:325.70px;height:29.03px"></div>
<div class="a y" style="left:479.15px;top:2950.11px;width:319.50px;height:29.03px"></div>
<div class="a b" style="left:163.5px;top:2954.5px;font-size:21.4px;color:#fff">Anti-dust cover</div>
<div class="a" style="left:496.5px;top:2953.5px;font-size:21.4px">1 pc</div>
<div class="a g" style="left:152.15px;top:2980.44px;width:325.70px;height:29.03px"></div>
<div class="a y" style="left:479.15px;top:2980.44px;width:319.50px;height:29.03px"></div>
<div class="a b" style="left:163.5px;top:2984.3px;font-size:21.4px;color:#fff">Plain base</div>
<div class="a" style="left:496.5px;top:2983.9px;font-size:21.4px">1 pc (for L≥1500mm)</div>
<div class="a g" style="left:152.15px;top:3010.77px;width:325.70px;height:29.03px"></div>
<div class="a y" style="left:479.15px;top:3010.77px;width:319.50px;height:29.03px"></div>
<div class="a b" style="left:161.7px;top:3014.4px;font-size:21.4px;color:#fff">Mounting accessories</div>
<div class="a" style="left:496.5px;top:3014.4px;font-size:21.4px">1 package</div>
</body></html>
